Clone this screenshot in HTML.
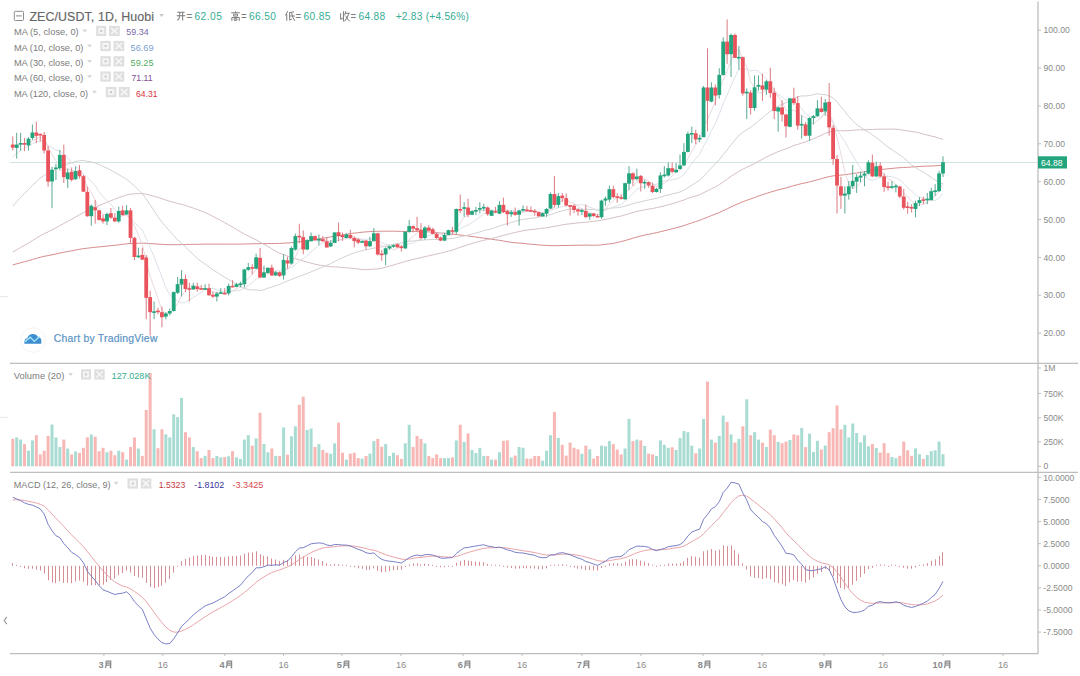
<!DOCTYPE html><html><head><meta charset="utf-8"><style>html,body{margin:0;padding:0;background:#fff;width:1080px;height:676px;overflow:hidden}svg{display:block;font-family:"Liberation Sans",sans-serif}</style></head><body>
<svg width="1080" height="676" viewBox="0 0 1080 676">
<rect width="1080" height="676" fill="#fff"/>
<line x1="10" x2="1038" y1="162.5" y2="162.5" stroke="#d2e5e2" stroke-width="1"/>
<polyline points="12.8,264.9 16.7,263.8 20.6,262.8 24.5,261.7 28.5,260.7 32.4,259.5 36.3,258.4 40.2,257.3 44.2,256.3 48.1,255.6 52.0,254.8 55.9,254.0 59.9,253.0 63.8,252.3 67.7,251.5 71.7,250.8 75.6,250.0 79.5,249.3 83.4,248.6 87.4,248.2 91.3,247.7 95.2,247.3 99.1,246.9 103.0,246.5 107.0,246.1 110.9,245.6 114.8,245.3 118.8,244.8 122.7,244.3 126.6,243.8 130.5,243.5 134.4,243.4 138.4,243.3 142.3,243.1 146.2,243.3 150.2,243.6 154.1,243.8 158.0,244.1 161.9,244.3 165.8,244.6 169.8,244.7 173.7,244.7 177.6,244.7 181.6,244.5 185.5,244.5 189.4,244.4 193.3,244.3 197.2,244.3 201.2,244.2 205.1,244.1 209.0,244.1 212.9,244.1 216.9,244.1 220.8,244.1 224.7,244.1 228.7,244.1 232.6,244.1 236.5,244.1 240.4,244.1 244.3,244.0 248.3,243.9 252.2,243.8 256.1,243.7 260.0,243.7 264.0,243.6 267.9,243.6 271.8,243.5 275.7,243.5 279.7,243.4 283.6,243.2 287.5,243.0 291.4,242.7 295.4,242.2 299.3,241.7 303.2,241.2 307.1,240.7 311.1,240.1 315.0,239.5 318.9,238.8 322.8,238.2 326.8,237.6 330.7,236.9 334.6,236.2 338.5,235.5 342.5,234.9 346.4,234.2 350.3,233.6 354.2,233.1 358.2,232.7 362.1,232.2 366.0,231.9 369.9,231.6 373.9,231.3 377.8,231.3 381.7,231.2 385.6,231.2 389.6,231.2 393.5,231.2 397.4,231.3 401.3,231.4 405.3,231.4 409.2,231.4 413.1,231.4 417.0,231.4 421.0,231.6 424.9,231.7 428.8,231.9 432.7,232.2 436.7,232.5 440.6,232.9 444.5,233.3 448.4,233.7 452.4,234.2 456.3,234.6 460.2,235.0 464.1,235.4 468.1,235.9 472.0,236.5 475.9,237.0 479.8,237.6 483.8,238.1 487.7,238.6 491.6,239.2 495.5,239.8 499.5,240.3 503.4,241.0 507.3,241.6 511.2,242.3 515.2,242.8 519.1,243.1 523.0,243.4 526.9,243.8 530.9,244.2 534.8,244.5 538.7,244.9 542.6,245.2 546.6,245.5 550.5,245.6 554.4,245.7 558.3,245.6 562.3,245.5 566.2,245.5 570.1,245.4 574.0,245.3 578.0,245.2 581.9,245.2 585.8,245.1 589.8,245.2 593.7,245.2 597.6,245.2 601.5,244.9 605.4,244.4 609.4,243.9 613.3,243.4 617.2,242.5 621.1,241.6 625.1,240.5 629.0,239.4 632.9,238.2 636.8,237.1 640.8,236.0 644.7,235.1 648.6,234.3 652.5,233.5 656.5,232.7 660.4,231.7 664.3,230.8 668.2,229.8 672.2,228.8 676.1,227.8 680.0,226.8 683.9,225.6 687.9,224.2 691.8,222.9 695.7,221.6 699.6,220.4 703.6,218.7 707.5,217.2 711.4,215.6 715.3,214.1 719.3,212.5 723.2,210.6 727.1,208.9 731.0,206.9 735.0,205.1 738.9,203.4 742.8,201.8 746.8,200.3 750.7,198.9 754.6,197.5 758.5,196.0 762.4,194.7 766.4,193.4 770.3,192.2 774.2,191.0 778.1,189.9 782.1,188.9 786.0,188.0 789.9,186.8 793.8,185.6 797.8,184.6 801.7,183.6 805.6,182.8 809.5,181.9 813.5,180.8 817.4,179.8 821.3,178.7 825.2,177.6 829.2,176.6 833.1,175.9 837.0,175.4 840.9,175.1 844.9,174.7 848.8,174.2 852.7,173.5 856.6,173.0 860.6,172.4 864.5,171.8 868.4,171.1 872.3,170.5 876.3,169.9 880.2,169.5 884.1,169.2 888.0,168.8 892.0,168.4 895.9,168.0 899.8,167.7 903.7,167.5 907.7,167.3 911.6,167.0 915.5,166.7 919.4,166.5 923.4,166.2 927.3,166.1 931.2,166.0 935.1,165.8 939.1,165.5 943.0,165.1" fill="none" stroke="#d48585" stroke-width="1" stroke-opacity="0.95"/>
<polyline points="12.8,251.9 16.7,249.7 20.6,247.5 24.5,245.3 28.5,243.0 32.4,240.6 36.3,238.2 40.2,235.8 44.2,233.6 48.1,231.9 52.0,229.9 55.9,227.9 59.9,225.5 63.8,223.5 67.7,221.3 71.7,219.3 75.6,216.9 79.5,214.7 83.4,212.6 87.4,210.9 91.3,209.0 95.2,207.2 99.1,205.5 103.0,203.9 107.0,202.2 110.9,200.6 114.8,199.2 118.8,197.6 122.7,196.3 126.6,194.9 130.5,194.2 134.4,193.8 138.4,193.6 142.3,193.6 146.2,194.2 150.2,195.2 154.1,196.3 158.0,197.4 161.9,198.7 165.8,200.0 169.8,201.3 173.7,202.4 177.6,203.4 181.6,204.3 185.5,205.5 189.4,206.8 193.3,208.1 197.2,209.5 201.2,211.0 205.1,212.6 209.0,214.4 212.9,216.4 216.9,218.4 220.8,220.5 224.7,222.7 228.7,224.9 232.6,227.1 236.5,229.4 240.4,231.7 244.3,233.9 248.3,235.9 252.2,237.9 256.1,239.8 260.0,242.1 264.0,244.3 267.9,246.5 271.8,248.9 275.7,251.2 279.7,253.2 283.6,254.6 287.5,256.1 291.4,257.5 295.4,258.8 299.3,259.8 303.2,261.1 307.1,262.1 311.1,263.2 315.0,264.2 318.9,265.0 322.8,265.5 326.8,266.1 330.7,266.7 334.6,266.9 338.5,267.1 342.5,267.5 346.4,267.8 350.3,268.1 354.2,268.6 358.2,269.0 362.1,269.6 366.0,269.7 369.9,269.4 373.9,269.1 377.8,269.0 381.7,268.3 385.6,267.2 389.6,266.1 393.5,265.0 397.4,263.8 401.3,262.7 405.3,261.4 409.2,260.3 413.1,259.4 417.0,258.6 421.0,257.7 424.9,256.7 428.8,255.8 432.7,254.9 436.7,254.0 440.6,253.2 444.5,252.2 448.4,251.1 452.4,250.1 456.3,248.7 460.2,247.3 464.1,246.0 468.1,244.7 472.0,243.5 475.9,242.3 479.8,241.3 483.8,240.3 487.7,239.4 491.6,238.6 495.5,237.5 499.5,236.4 503.4,235.4 507.3,234.4 511.2,233.4 515.2,232.4 519.1,231.6 523.0,230.7 526.9,230.1 530.9,229.6 534.8,229.2 538.7,228.7 542.6,228.2 546.6,227.8 550.5,227.0 554.4,226.4 558.3,225.7 562.3,224.9 566.2,224.2 570.1,223.8 574.0,223.4 578.0,222.9 581.9,222.5 585.8,222.2 589.8,221.7 593.7,221.3 597.6,220.9 601.5,220.1 605.4,219.4 609.4,218.7 613.3,217.7 617.2,216.8 621.1,216.0 625.1,214.9 629.0,213.7 632.9,212.6 636.8,211.4 640.8,210.6 644.7,209.8 648.6,209.1 652.5,208.5 656.5,207.7 660.4,206.8 664.3,205.9 668.2,204.8 672.2,203.7 676.1,202.5 680.0,201.3 683.9,200.0 687.9,198.4 691.8,197.1 695.7,196.0 699.6,194.8 703.6,192.7 707.5,190.9 711.4,188.8 715.3,186.9 719.3,184.7 723.2,181.9 727.1,179.3 731.0,176.3 735.0,173.8 738.9,171.3 742.8,169.2 746.8,167.2 750.7,165.5 754.6,163.4 758.5,161.3 762.4,159.3 766.4,157.1 770.3,155.2 774.2,153.4 778.1,151.6 782.1,150.1 786.0,148.9 789.9,147.2 793.8,145.6 797.8,144.4 801.7,143.1 805.6,141.9 809.5,140.3 813.5,138.7 817.4,137.0 821.3,135.3 825.2,133.4 829.2,132.0 833.1,131.0 837.0,130.7 840.9,130.7 844.9,130.8 848.8,130.6 852.7,130.3 856.6,129.9 860.6,129.8 864.5,129.8 868.4,129.5 872.3,129.5 876.3,129.3 880.2,129.2 884.1,129.2 888.0,129.1 892.0,129.1 895.9,129.2 899.8,129.6 903.7,130.3 907.7,130.9 911.6,131.5 915.5,132.1 919.4,132.9 923.4,134.1 927.3,135.1 931.2,136.0 935.1,136.9 939.1,138.3 943.0,139.3" fill="none" stroke="#d3bcc0" stroke-width="1" stroke-opacity="0.95"/>
<polyline points="12.8,206.1 16.7,201.7 20.6,197.5 24.5,193.5 28.5,189.6 32.4,185.6 36.3,181.8 40.2,178.2 44.2,175.3 48.1,173.5 52.0,171.4 55.9,169.3 59.9,167.0 63.8,165.5 67.7,164.0 71.7,162.8 75.6,161.6 79.5,160.7 83.4,160.5 87.4,161.3 91.3,161.9 95.2,163.0 99.1,164.5 103.0,166.4 107.0,168.1 110.9,170.2 114.8,172.5 118.8,174.6 122.7,177.0 126.6,179.3 130.5,182.3 134.4,186.0 138.4,189.8 142.3,193.6 146.2,198.9 150.2,204.9 154.1,210.8 158.0,216.7 161.9,222.2 165.8,226.6 169.8,231.3 173.7,235.5 177.6,239.8 181.6,243.2 185.5,247.1 189.4,250.7 193.3,254.5 197.2,258.3 201.2,261.6 205.1,264.0 209.0,266.9 212.9,269.8 216.9,272.3 220.8,274.7 224.7,277.3 228.7,279.6 232.6,281.8 236.5,284.2 240.4,286.5 244.3,288.5 248.3,289.5 252.2,289.9 256.1,289.9 260.0,290.5 264.0,289.7 267.9,288.2 271.8,287.0 275.7,285.7 279.7,284.3 283.6,282.5 287.5,280.9 291.4,279.4 295.4,277.8 299.3,276.4 303.2,275.1 307.1,273.5 311.1,271.8 315.0,270.2 318.9,268.5 322.8,266.9 326.8,265.3 330.7,263.6 334.6,261.5 338.5,259.6 342.5,257.7 346.4,256.0 350.3,254.4 354.2,252.9 358.2,251.6 362.1,250.6 366.0,249.9 369.9,249.0 373.9,248.2 377.8,247.4 381.7,246.9 385.6,246.2 389.6,245.2 393.5,244.3 397.4,243.4 401.3,243.0 405.3,241.9 409.2,241.2 413.1,240.9 417.0,240.7 421.0,240.3 424.9,239.9 428.8,239.7 432.7,239.5 436.7,239.5 440.6,239.5 444.5,239.0 448.4,238.6 452.4,238.6 456.3,237.7 460.2,236.8 464.1,235.9 468.1,235.1 472.0,234.1 475.9,233.0 479.8,231.9 483.8,230.6 487.7,229.7 491.6,228.9 495.5,227.5 499.5,225.9 503.4,224.7 507.3,223.6 511.2,222.5 515.2,221.4 519.1,220.2 523.0,219.4 526.9,218.9 530.9,218.4 534.8,217.8 538.7,217.0 542.6,216.5 546.6,215.8 550.5,214.5 554.4,213.4 558.3,211.9 562.3,210.7 566.2,209.9 570.1,209.0 574.0,209.1 578.0,209.1 581.9,209.2 585.8,209.3 589.8,209.4 593.7,209.6 597.6,209.9 601.5,209.7 605.4,209.2 609.4,208.4 613.3,207.9 617.2,207.7 621.1,207.2 625.1,206.2 629.0,204.9 632.9,203.7 636.8,202.6 640.8,201.7 644.7,200.8 648.6,199.9 652.5,199.2 656.5,198.3 660.4,197.1 664.3,195.9 668.2,195.1 672.2,193.9 676.1,193.1 680.0,192.0 683.9,190.2 687.9,187.8 691.8,185.2 695.7,182.8 699.6,180.4 703.6,176.1 707.5,172.3 711.4,168.0 715.3,164.0 719.3,159.8 723.2,154.6 727.1,150.1 731.0,144.7 735.0,140.0 738.9,135.3 742.8,132.3 746.8,129.6 750.7,127.2 754.6,124.2 758.5,120.9 762.4,117.9 766.4,114.4 770.3,111.1 774.2,108.5 778.1,106.2 782.1,104.2 786.0,102.8 789.9,100.4 793.8,98.2 797.8,96.8 801.7,95.9 805.6,96.0 809.5,95.5 813.5,94.7 817.4,93.7 821.3,94.5 825.2,94.6 829.2,95.9 833.1,98.0 837.0,101.7 840.9,106.8 844.9,111.5 848.8,116.5 852.7,120.6 856.6,124.6 860.6,127.3 864.5,130.1 868.4,131.9 872.3,134.8 876.3,137.6 880.2,140.5 884.1,144.0 888.0,147.1 892.0,149.6 895.9,152.3 899.8,155.0 903.7,157.7 907.7,161.4 911.6,164.9 915.5,167.5 919.4,170.0 923.4,172.1 927.3,174.8 931.2,177.3 935.1,180.1 939.1,182.1 943.0,184.1" fill="none" stroke="#cdcdcd" stroke-width="1" stroke-opacity="0.9"/>
<polyline points="12.8,156.9 16.7,153.5 20.6,150.5 24.5,148.3 28.5,146.0 32.4,143.7 36.3,142.1 40.2,140.8 44.2,141.4 48.1,145.4 52.0,147.6 55.9,149.9 59.9,151.1 63.8,154.3 67.7,157.7 71.7,162.5 75.6,166.0 79.5,170.1 83.4,174.2 87.4,177.7 91.3,181.3 95.2,185.6 99.1,192.1 103.0,196.5 107.0,200.7 110.9,204.4 114.8,209.5 118.8,212.9 122.7,215.3 126.6,214.7 130.5,217.9 134.4,222.5 138.4,226.2 142.3,230.0 146.2,238.4 150.2,247.8 154.1,256.8 158.0,266.9 161.9,277.1 165.8,287.5 169.8,294.8 173.7,298.3 177.6,301.1 181.6,303.0 185.5,302.2 189.4,299.9 193.3,297.3 197.2,295.0 201.2,292.3 205.1,289.8 209.0,288.2 212.9,288.6 216.9,289.6 220.8,290.9 224.7,291.4 228.7,291.1 232.6,291.2 236.5,290.7 240.4,290.2 244.3,288.2 248.3,285.4 252.2,282.6 256.1,279.0 260.0,277.5 264.0,275.4 267.9,273.6 271.8,272.4 275.7,271.2 279.7,270.4 283.6,269.5 287.5,269.1 291.4,267.0 295.4,264.9 299.3,260.9 303.2,258.6 307.1,255.8 311.1,251.9 315.0,248.7 318.9,245.0 322.8,243.1 326.8,241.5 330.7,241.0 334.6,240.6 338.5,240.5 342.5,239.3 346.4,238.7 350.3,238.9 354.2,239.0 358.2,239.3 362.1,239.3 366.0,239.2 369.9,239.0 373.9,239.1 377.8,241.0 381.7,242.7 385.6,244.1 389.6,244.9 393.5,245.4 397.4,245.8 401.3,246.5 405.3,245.0 409.2,243.5 413.1,243.1 417.0,240.7 421.0,239.0 424.9,236.9 428.8,235.4 432.7,234.2 436.7,233.3 440.6,232.6 444.5,232.9 448.4,233.3 452.4,233.5 456.3,231.4 460.2,228.6 464.1,226.6 468.1,225.0 472.0,222.7 475.9,219.9 479.8,216.7 483.8,213.9 487.7,212.3 491.6,210.2 495.5,210.6 499.5,210.1 503.4,210.5 507.3,210.5 511.2,210.6 515.2,211.0 519.1,211.3 523.0,211.5 526.9,211.2 530.9,211.3 534.8,211.3 538.7,212.4 542.6,212.5 546.6,212.0 550.5,210.2 554.4,209.2 558.3,207.7 562.3,206.7 566.2,206.1 570.1,205.6 574.0,205.4 578.0,204.9 581.9,204.6 585.8,205.4 589.8,207.4 593.7,208.5 597.6,210.6 601.5,210.9 605.4,210.2 609.4,208.4 613.3,207.1 617.2,205.8 621.1,204.6 625.1,201.2 629.0,197.2 632.9,193.5 636.8,189.4 640.8,187.7 644.7,186.1 648.6,185.7 652.5,185.2 656.5,184.3 660.4,181.9 664.3,181.1 668.2,180.6 672.2,179.8 676.1,179.1 680.0,177.4 683.9,174.3 687.9,169.2 691.8,163.4 695.7,158.4 699.6,154.7 703.6,145.9 707.5,139.2 711.4,130.8 715.3,123.4 719.3,114.3 723.2,103.3 727.1,95.3 731.0,85.5 735.0,77.3 738.9,69.2 742.8,69.8 746.8,68.9 750.7,71.0 754.6,70.1 758.5,71.1 762.4,75.9 766.4,78.6 770.3,84.5 774.2,89.8 778.1,94.8 782.1,96.9 786.0,100.3 789.9,99.4 793.8,101.0 797.8,105.0 801.7,108.5 805.6,114.0 809.5,116.4 813.5,117.0 817.4,117.1 821.3,116.8 825.2,114.4 829.2,117.3 833.1,122.9 837.0,128.9 840.9,136.0 844.9,141.8 848.8,148.6 852.7,155.1 856.6,162.0 860.6,168.3 864.5,175.4 868.4,178.9 872.3,180.7 876.3,178.7 880.2,176.8 884.1,176.2 888.0,176.3 892.0,176.9 895.9,177.8 899.8,179.9 903.7,183.3 907.7,187.8 911.6,191.0 915.5,194.7 919.4,197.1 923.4,198.4 927.3,199.6 931.2,200.0 935.1,200.5 939.1,198.2 943.0,193.6" fill="none" stroke="#d8dde6" stroke-width="1" stroke-opacity="0.9"/>
<polyline points="12.8,146.6 16.7,145.2 20.6,144.3 24.5,144.3 28.5,143.7 32.4,140.7 36.3,138.9 40.2,137.3 44.2,138.5 48.1,147.1 52.0,154.5 55.9,160.9 59.9,164.9 63.8,170.2 67.7,168.4 71.7,170.4 75.6,171.1 79.5,175.4 83.4,178.3 87.4,187.0 91.3,192.2 95.2,200.1 99.1,208.8 103.0,214.7 107.0,214.3 110.9,216.6 114.8,218.8 118.8,217.1 122.7,215.8 126.6,215.1 130.5,219.1 134.4,226.2 138.4,235.2 142.3,244.1 146.2,261.6 150.2,276.5 154.1,287.4 158.0,298.6 161.9,310.1 165.8,313.3 169.8,313.0 173.7,309.1 177.6,303.6 181.6,295.9 185.5,291.0 189.4,286.7 193.3,285.5 197.2,286.5 201.2,288.6 205.1,288.5 209.0,289.7 212.9,291.8 216.9,292.7 220.8,293.3 224.7,294.4 228.7,292.5 232.6,290.6 236.5,288.8 240.4,287.0 244.3,282.1 248.3,278.4 252.2,274.7 256.1,269.3 260.0,268.0 264.0,268.6 267.9,268.7 271.8,270.1 275.7,273.1 279.7,272.8 283.6,270.3 287.5,269.4 291.4,263.9 295.4,256.7 299.3,248.9 303.2,246.9 307.1,242.2 311.1,239.8 315.0,240.6 318.9,241.1 322.8,239.4 326.8,240.9 330.7,242.2 334.6,240.6 338.5,240.0 342.5,239.2 346.4,236.6 350.3,235.6 354.2,237.3 358.2,238.6 362.1,239.4 366.0,241.8 369.9,242.4 373.9,240.9 377.8,243.3 381.7,246.0 385.6,246.4 389.6,247.5 393.5,249.8 397.4,248.4 401.3,247.0 405.3,243.7 409.2,239.6 413.1,236.3 417.0,232.9 421.0,231.0 424.9,230.1 428.8,231.1 432.7,232.1 436.7,233.7 440.6,234.2 444.5,235.6 448.4,235.5 452.4,235.0 456.3,229.2 460.2,223.1 464.1,217.6 468.1,214.5 472.0,210.5 475.9,210.7 479.8,210.3 483.8,210.2 487.7,210.1 491.6,209.9 495.5,210.5 499.5,209.8 503.4,210.9 507.3,210.9 511.2,211.2 515.2,211.6 519.1,212.8 523.0,212.1 526.9,211.5 530.9,211.4 534.8,210.9 538.7,212.0 542.6,212.9 546.6,212.5 550.5,208.9 554.4,207.5 558.3,203.4 562.3,200.4 566.2,199.7 570.1,202.3 574.0,203.3 578.0,206.4 581.9,208.8 585.8,211.2 589.8,212.5 593.7,213.8 597.6,214.9 601.5,212.9 605.4,209.2 609.4,204.3 613.3,200.5 617.2,196.7 621.1,196.2 625.1,193.2 629.0,190.0 632.9,186.5 636.8,182.2 640.8,179.1 644.7,178.9 648.6,181.3 652.5,183.8 656.5,186.3 660.4,184.7 664.3,183.3 668.2,179.9 672.2,175.8 676.1,172.0 680.0,170.0 683.9,165.4 687.9,158.5 691.8,150.9 695.7,144.8 699.6,139.4 703.6,126.5 707.5,119.9 711.4,110.6 715.3,101.9 719.3,89.3 723.2,80.1 727.1,70.8 731.0,60.3 735.0,52.7 738.9,49.2 742.8,59.5 746.8,67.1 750.7,81.7 754.6,87.6 758.5,93.1 762.4,92.3 766.4,90.2 770.3,87.3 774.2,92.0 778.1,96.5 782.1,101.5 786.0,110.5 789.9,111.5 793.8,109.9 797.8,113.6 801.7,115.6 805.6,117.4 809.5,121.4 813.5,124.0 817.4,120.5 821.3,118.0 825.2,111.4 829.2,113.3 833.1,121.9 837.0,137.3 840.9,154.0 844.9,172.2 848.8,184.0 852.7,188.4 856.6,186.7 860.6,182.7 864.5,178.7 868.4,173.9 872.3,173.0 876.3,170.8 880.2,171.0 884.1,173.7 888.0,178.8 892.0,180.8 895.9,184.7 899.8,188.7 903.7,192.9 907.7,196.9 911.6,201.3 915.5,204.7 919.4,205.4 923.4,204.0 927.3,202.2 931.2,198.8 935.1,196.3 939.1,191.0 943.0,183.3" fill="none" stroke="#e8d3dc" stroke-width="1" stroke-opacity="0.9"/>
<line x1="12.78" x2="12.78" y1="136.4" y2="150.5" stroke="#dc7b81" stroke-width="1"/>
<rect x="10.88" y="144.6" width="3.8" height="3.0" fill="#e9535c"/>
<line x1="16.70" x2="16.70" y1="132.8" y2="158.6" stroke="#5aa893" stroke-width="1"/>
<rect x="14.80" y="144.6" width="3.8" height="3.3" fill="#22a57c"/>
<line x1="20.62" x2="20.62" y1="132.8" y2="150.5" stroke="#5aa893" stroke-width="1"/>
<rect x="18.73" y="143.0" width="3.8" height="1.6" fill="#22a57c"/>
<line x1="24.55" x2="24.55" y1="137.9" y2="151.2" stroke="#dc7b81" stroke-width="1"/>
<rect x="22.65" y="143.0" width="3.8" height="1.6" fill="#e9535c"/>
<line x1="28.48" x2="28.48" y1="137.2" y2="150.5" stroke="#5aa893" stroke-width="1"/>
<rect x="26.58" y="138.7" width="3.8" height="6.7" fill="#22a57c"/>
<line x1="32.40" x2="32.40" y1="124.6" y2="140.1" stroke="#5aa893" stroke-width="1"/>
<rect x="30.50" y="132.5" width="3.8" height="5.5" fill="#22a57c"/>
<line x1="36.32" x2="36.32" y1="121.7" y2="143.1" stroke="#dc7b81" stroke-width="1"/>
<rect x="34.42" y="132.5" width="3.8" height="3.3" fill="#e9535c"/>
<line x1="40.25" x2="40.25" y1="133.5" y2="141.6" stroke="#dc7b81" stroke-width="1"/>
<rect x="38.35" y="133.9" width="3.8" height="1.6" fill="#e9535c"/>
<line x1="44.17" x2="44.17" y1="132.0" y2="153.5" stroke="#dc7b81" stroke-width="1"/>
<rect x="42.27" y="135.0" width="3.8" height="15.5" fill="#e9535c"/>
<line x1="48.10" x2="48.10" y1="146.1" y2="186.7" stroke="#dc7b81" stroke-width="1"/>
<rect x="46.20" y="150.5" width="3.8" height="31.1" fill="#e9535c"/>
<line x1="52.02" x2="52.02" y1="166.8" y2="208.2" stroke="#5aa893" stroke-width="1"/>
<rect x="50.12" y="169.7" width="3.8" height="11.8" fill="#22a57c"/>
<line x1="55.95" x2="55.95" y1="163.8" y2="180.1" stroke="#5aa893" stroke-width="1"/>
<rect x="54.05" y="167.5" width="3.8" height="1.6" fill="#22a57c"/>
<line x1="59.87" x2="59.87" y1="149.8" y2="170.5" stroke="#5aa893" stroke-width="1"/>
<rect x="57.97" y="154.9" width="3.8" height="13.3" fill="#22a57c"/>
<line x1="63.80" x2="63.80" y1="144.6" y2="183.0" stroke="#dc7b81" stroke-width="1"/>
<rect x="61.90" y="154.9" width="3.8" height="22.2" fill="#e9535c"/>
<line x1="67.72" x2="67.72" y1="168.8" y2="188.1" stroke="#5aa893" stroke-width="1"/>
<rect x="65.82" y="172.5" width="3.8" height="6.7" fill="#22a57c"/>
<line x1="71.65" x2="71.65" y1="167.4" y2="181.4" stroke="#dc7b81" stroke-width="1"/>
<rect x="69.75" y="171.8" width="3.8" height="8.1" fill="#e9535c"/>
<line x1="75.58" x2="75.58" y1="166.6" y2="179.9" stroke="#5aa893" stroke-width="1"/>
<rect x="73.67" y="171.1" width="3.8" height="8.1" fill="#22a57c"/>
<line x1="79.50" x2="79.50" y1="165.1" y2="178.5" stroke="#dc7b81" stroke-width="1"/>
<rect x="77.60" y="170.3" width="3.8" height="5.9" fill="#e9535c"/>
<line x1="83.42" x2="83.42" y1="174.8" y2="191.8" stroke="#dc7b81" stroke-width="1"/>
<rect x="81.52" y="176.2" width="3.8" height="15.5" fill="#e9535c"/>
<line x1="87.35" x2="87.35" y1="186.6" y2="216.9" stroke="#dc7b81" stroke-width="1"/>
<rect x="85.45" y="191.8" width="3.8" height="24.4" fill="#e9535c"/>
<line x1="91.28" x2="91.28" y1="204.3" y2="225.8" stroke="#5aa893" stroke-width="1"/>
<rect x="89.38" y="205.8" width="3.8" height="10.4" fill="#22a57c"/>
<line x1="95.20" x2="95.20" y1="199.9" y2="223.6" stroke="#dc7b81" stroke-width="1"/>
<rect x="93.30" y="207.3" width="3.8" height="3.0" fill="#e9535c"/>
<line x1="99.12" x2="99.12" y1="210.3" y2="220.6" stroke="#dc7b81" stroke-width="1"/>
<rect x="97.22" y="210.3" width="3.8" height="9.6" fill="#e9535c"/>
<line x1="103.05" x2="103.05" y1="214.7" y2="223.6" stroke="#dc7b81" stroke-width="1"/>
<rect x="101.15" y="218.4" width="3.8" height="3.0" fill="#e9535c"/>
<line x1="106.97" x2="106.97" y1="212.5" y2="225.1" stroke="#5aa893" stroke-width="1"/>
<rect x="105.07" y="214.0" width="3.8" height="7.4" fill="#22a57c"/>
<line x1="110.90" x2="110.90" y1="208.0" y2="219.1" stroke="#dc7b81" stroke-width="1"/>
<rect x="109.00" y="213.2" width="3.8" height="4.4" fill="#e9535c"/>
<line x1="114.83" x2="114.83" y1="213.2" y2="222.1" stroke="#dc7b81" stroke-width="1"/>
<rect x="112.92" y="217.7" width="3.8" height="3.7" fill="#e9535c"/>
<line x1="118.75" x2="118.75" y1="206.6" y2="222.8" stroke="#5aa893" stroke-width="1"/>
<rect x="116.85" y="211.0" width="3.8" height="10.4" fill="#22a57c"/>
<line x1="122.67" x2="122.67" y1="205.7" y2="215.5" stroke="#dc7b81" stroke-width="1"/>
<rect x="120.77" y="210.4" width="3.8" height="4.7" fill="#e9535c"/>
<line x1="126.60" x2="126.60" y1="205.2" y2="214.5" stroke="#5aa893" stroke-width="1"/>
<rect x="124.70" y="210.4" width="3.8" height="4.1" fill="#22a57c"/>
<line x1="130.53" x2="130.53" y1="207.8" y2="243.5" stroke="#dc7b81" stroke-width="1"/>
<rect x="128.62" y="210.4" width="3.8" height="27.5" fill="#e9535c"/>
<line x1="134.45" x2="134.45" y1="236.8" y2="260.1" stroke="#dc7b81" stroke-width="1"/>
<rect x="132.55" y="237.8" width="3.8" height="19.2" fill="#e9535c"/>
<line x1="138.38" x2="138.38" y1="247.7" y2="258.0" stroke="#5aa893" stroke-width="1"/>
<rect x="136.47" y="255.6" width="3.8" height="1.6" fill="#22a57c"/>
<line x1="142.30" x2="142.30" y1="247.7" y2="260.1" stroke="#dc7b81" stroke-width="1"/>
<rect x="140.40" y="254.9" width="3.8" height="4.7" fill="#e9535c"/>
<line x1="146.22" x2="146.22" y1="255.0" y2="319.2" stroke="#dc7b81" stroke-width="1"/>
<rect x="144.32" y="257.5" width="3.8" height="40.3" fill="#e9535c"/>
<line x1="150.15" x2="150.15" y1="290.8" y2="335.5" stroke="#dc7b81" stroke-width="1"/>
<rect x="148.25" y="297.1" width="3.8" height="15.1" fill="#e9535c"/>
<line x1="154.07" x2="154.07" y1="301.5" y2="319.2" stroke="#5aa893" stroke-width="1"/>
<rect x="152.17" y="311.3" width="3.8" height="1.6" fill="#22a57c"/>
<line x1="158.00" x2="158.00" y1="307.8" y2="314.1" stroke="#dc7b81" stroke-width="1"/>
<rect x="156.10" y="310.6" width="3.8" height="1.6" fill="#e9535c"/>
<line x1="161.93" x2="161.93" y1="306.6" y2="327.3" stroke="#dc7b81" stroke-width="1"/>
<rect x="160.03" y="312.2" width="3.8" height="5.0" fill="#e9535c"/>
<line x1="165.85" x2="165.85" y1="312.2" y2="319.2" stroke="#5aa893" stroke-width="1"/>
<rect x="163.95" y="313.5" width="3.8" height="3.1" fill="#22a57c"/>
<line x1="169.78" x2="169.78" y1="308.5" y2="315.4" stroke="#5aa893" stroke-width="1"/>
<rect x="167.88" y="311.0" width="3.8" height="2.5" fill="#22a57c"/>
<line x1="173.70" x2="173.70" y1="291.5" y2="311.6" stroke="#5aa893" stroke-width="1"/>
<rect x="171.80" y="292.1" width="3.8" height="18.9" fill="#22a57c"/>
<line x1="177.62" x2="177.62" y1="277.0" y2="294.0" stroke="#5aa893" stroke-width="1"/>
<rect x="175.72" y="284.2" width="3.8" height="8.6" fill="#22a57c"/>
<line x1="181.55" x2="181.55" y1="270.1" y2="296.5" stroke="#5aa893" stroke-width="1"/>
<rect x="179.65" y="278.9" width="3.8" height="5.7" fill="#22a57c"/>
<line x1="185.47" x2="185.47" y1="274.5" y2="292.1" stroke="#dc7b81" stroke-width="1"/>
<rect x="183.57" y="278.9" width="3.8" height="10.1" fill="#e9535c"/>
<line x1="189.40" x2="189.40" y1="282.8" y2="301.5" stroke="#dc7b81" stroke-width="1"/>
<rect x="187.50" y="288.2" width="3.8" height="1.6" fill="#e9535c"/>
<line x1="193.32" x2="193.32" y1="282.8" y2="289.9" stroke="#5aa893" stroke-width="1"/>
<rect x="191.42" y="285.9" width="3.8" height="3.5" fill="#22a57c"/>
<line x1="197.25" x2="197.25" y1="282.8" y2="291.7" stroke="#dc7b81" stroke-width="1"/>
<rect x="195.35" y="286.4" width="3.8" height="2.7" fill="#e9535c"/>
<line x1="201.17" x2="201.17" y1="285.0" y2="289.5" stroke="#dc7b81" stroke-width="1"/>
<rect x="199.27" y="288.2" width="3.8" height="1.6" fill="#e9535c"/>
<line x1="205.10" x2="205.10" y1="284.2" y2="289.5" stroke="#5aa893" stroke-width="1"/>
<rect x="203.20" y="288.2" width="3.8" height="1.6" fill="#22a57c"/>
<line x1="209.03" x2="209.03" y1="283.7" y2="295.7" stroke="#dc7b81" stroke-width="1"/>
<rect x="207.12" y="288.2" width="3.8" height="7.1" fill="#e9535c"/>
<line x1="212.95" x2="212.95" y1="291.7" y2="297.9" stroke="#dc7b81" stroke-width="1"/>
<rect x="211.05" y="294.8" width="3.8" height="1.8" fill="#e9535c"/>
<line x1="216.88" x2="216.88" y1="291.7" y2="301.5" stroke="#5aa893" stroke-width="1"/>
<rect x="214.97" y="293.5" width="3.8" height="3.1" fill="#22a57c"/>
<line x1="220.80" x2="220.80" y1="288.2" y2="293.5" stroke="#5aa893" stroke-width="1"/>
<rect x="218.90" y="292.2" width="3.8" height="1.6" fill="#22a57c"/>
<line x1="224.72" x2="224.72" y1="288.2" y2="294.4" stroke="#dc7b81" stroke-width="1"/>
<rect x="222.82" y="292.7" width="3.8" height="1.6" fill="#e9535c"/>
<line x1="228.65" x2="228.65" y1="283.7" y2="295.3" stroke="#5aa893" stroke-width="1"/>
<rect x="226.75" y="285.9" width="3.8" height="7.5" fill="#22a57c"/>
<line x1="232.57" x2="232.57" y1="280.2" y2="287.3" stroke="#dc7b81" stroke-width="1"/>
<rect x="230.67" y="285.8" width="3.8" height="1.6" fill="#e9535c"/>
<line x1="236.50" x2="236.50" y1="282.8" y2="287.3" stroke="#5aa893" stroke-width="1"/>
<rect x="234.60" y="284.2" width="3.8" height="2.7" fill="#22a57c"/>
<line x1="240.42" x2="240.42" y1="281.7" y2="287.4" stroke="#5aa893" stroke-width="1"/>
<rect x="238.52" y="283.4" width="3.8" height="1.6" fill="#22a57c"/>
<line x1="244.35" x2="244.35" y1="268.7" y2="287.4" stroke="#5aa893" stroke-width="1"/>
<rect x="242.45" y="269.5" width="3.8" height="14.7" fill="#22a57c"/>
<line x1="248.28" x2="248.28" y1="263.0" y2="270.8" stroke="#5aa893" stroke-width="1"/>
<rect x="246.38" y="267.2" width="3.8" height="2.6" fill="#22a57c"/>
<line x1="252.20" x2="252.20" y1="264.0" y2="274.4" stroke="#dc7b81" stroke-width="1"/>
<rect x="250.30" y="267.1" width="3.8" height="1.6" fill="#e9535c"/>
<line x1="256.12" x2="256.12" y1="253.7" y2="269.2" stroke="#5aa893" stroke-width="1"/>
<rect x="254.22" y="257.3" width="3.8" height="11.4" fill="#22a57c"/>
<line x1="260.05" x2="260.05" y1="248.0" y2="278.0" stroke="#dc7b81" stroke-width="1"/>
<rect x="258.15" y="257.8" width="3.8" height="19.7" fill="#e9535c"/>
<line x1="263.97" x2="263.97" y1="265.6" y2="278.0" stroke="#5aa893" stroke-width="1"/>
<rect x="262.07" y="272.3" width="3.8" height="5.2" fill="#22a57c"/>
<line x1="267.90" x2="267.90" y1="267.2" y2="273.9" stroke="#5aa893" stroke-width="1"/>
<rect x="266.00" y="267.9" width="3.8" height="5.0" fill="#22a57c"/>
<line x1="271.82" x2="271.82" y1="264.6" y2="276.0" stroke="#dc7b81" stroke-width="1"/>
<rect x="269.93" y="267.7" width="3.8" height="7.8" fill="#e9535c"/>
<line x1="275.75" x2="275.75" y1="270.8" y2="276.0" stroke="#5aa893" stroke-width="1"/>
<rect x="273.85" y="272.3" width="3.8" height="3.1" fill="#22a57c"/>
<line x1="279.67" x2="279.67" y1="271.3" y2="277.0" stroke="#dc7b81" stroke-width="1"/>
<rect x="277.77" y="272.3" width="3.8" height="3.6" fill="#e9535c"/>
<line x1="283.60" x2="283.60" y1="254.2" y2="279.6" stroke="#5aa893" stroke-width="1"/>
<rect x="281.70" y="259.9" width="3.8" height="15.5" fill="#22a57c"/>
<line x1="287.52" x2="287.52" y1="256.8" y2="268.7" stroke="#dc7b81" stroke-width="1"/>
<rect x="285.62" y="260.4" width="3.8" height="3.1" fill="#e9535c"/>
<line x1="291.45" x2="291.45" y1="246.4" y2="264.6" stroke="#5aa893" stroke-width="1"/>
<rect x="289.55" y="248.0" width="3.8" height="15.5" fill="#22a57c"/>
<line x1="295.37" x2="295.37" y1="233.5" y2="250.6" stroke="#5aa893" stroke-width="1"/>
<rect x="293.47" y="236.1" width="3.8" height="13.5" fill="#22a57c"/>
<line x1="299.30" x2="299.30" y1="223.7" y2="243.3" stroke="#dc7b81" stroke-width="1"/>
<rect x="297.40" y="235.8" width="3.8" height="1.6" fill="#e9535c"/>
<line x1="303.22" x2="303.22" y1="230.4" y2="254.2" stroke="#dc7b81" stroke-width="1"/>
<rect x="301.32" y="237.1" width="3.8" height="12.4" fill="#e9535c"/>
<line x1="307.15" x2="307.15" y1="239.2" y2="250.1" stroke="#5aa893" stroke-width="1"/>
<rect x="305.25" y="240.2" width="3.8" height="9.3" fill="#22a57c"/>
<line x1="311.07" x2="311.07" y1="232.5" y2="241.3" stroke="#5aa893" stroke-width="1"/>
<rect x="309.18" y="236.1" width="3.8" height="5.2" fill="#22a57c"/>
<line x1="315.00" x2="315.00" y1="235.6" y2="240.8" stroke="#dc7b81" stroke-width="1"/>
<rect x="313.10" y="236.1" width="3.8" height="4.1" fill="#e9535c"/>
<line x1="318.92" x2="318.92" y1="234.5" y2="245.4" stroke="#5aa893" stroke-width="1"/>
<rect x="317.02" y="238.9" width="3.8" height="1.6" fill="#22a57c"/>
<line x1="322.85" x2="322.85" y1="236.1" y2="241.8" stroke="#dc7b81" stroke-width="1"/>
<rect x="320.95" y="239.2" width="3.8" height="2.1" fill="#e9535c"/>
<line x1="326.77" x2="326.77" y1="237.1" y2="247.5" stroke="#dc7b81" stroke-width="1"/>
<rect x="324.88" y="241.3" width="3.8" height="6.2" fill="#e9535c"/>
<line x1="330.70" x2="330.70" y1="240.2" y2="247.0" stroke="#5aa893" stroke-width="1"/>
<rect x="328.80" y="242.8" width="3.8" height="3.6" fill="#22a57c"/>
<line x1="334.62" x2="334.62" y1="231.9" y2="242.8" stroke="#5aa893" stroke-width="1"/>
<rect x="332.72" y="232.5" width="3.8" height="10.4" fill="#22a57c"/>
<line x1="338.55" x2="338.55" y1="222.6" y2="241.3" stroke="#dc7b81" stroke-width="1"/>
<rect x="336.65" y="232.2" width="3.8" height="3.9" fill="#e9535c"/>
<line x1="342.47" x2="342.47" y1="232.5" y2="240.8" stroke="#dc7b81" stroke-width="1"/>
<rect x="340.57" y="235.1" width="3.8" height="2.1" fill="#e9535c"/>
<line x1="346.40" x2="346.40" y1="233.3" y2="238.5" stroke="#5aa893" stroke-width="1"/>
<rect x="344.50" y="234.4" width="3.8" height="3.6" fill="#22a57c"/>
<line x1="350.32" x2="350.32" y1="229.7" y2="239.0" stroke="#dc7b81" stroke-width="1"/>
<rect x="348.43" y="234.9" width="3.8" height="3.1" fill="#e9535c"/>
<line x1="354.25" x2="354.25" y1="236.4" y2="247.3" stroke="#dc7b81" stroke-width="1"/>
<rect x="352.35" y="238.0" width="3.8" height="3.1" fill="#e9535c"/>
<line x1="358.17" x2="358.17" y1="238.0" y2="244.2" stroke="#dc7b81" stroke-width="1"/>
<rect x="356.27" y="239.5" width="3.8" height="3.1" fill="#e9535c"/>
<line x1="362.10" x2="362.10" y1="240.1" y2="243.2" stroke="#5aa893" stroke-width="1"/>
<rect x="360.20" y="241.1" width="3.8" height="1.6" fill="#22a57c"/>
<line x1="366.02" x2="366.02" y1="240.1" y2="249.9" stroke="#dc7b81" stroke-width="1"/>
<rect x="364.12" y="240.6" width="3.8" height="5.7" fill="#e9535c"/>
<line x1="369.95" x2="369.95" y1="236.9" y2="246.8" stroke="#5aa893" stroke-width="1"/>
<rect x="368.05" y="241.1" width="3.8" height="5.2" fill="#22a57c"/>
<line x1="373.87" x2="373.87" y1="228.1" y2="241.1" stroke="#5aa893" stroke-width="1"/>
<rect x="371.97" y="233.3" width="3.8" height="7.8" fill="#22a57c"/>
<line x1="377.80" x2="377.80" y1="232.8" y2="255.6" stroke="#dc7b81" stroke-width="1"/>
<rect x="375.90" y="233.3" width="3.8" height="21.2" fill="#e9535c"/>
<line x1="381.72" x2="381.72" y1="249.9" y2="260.8" stroke="#dc7b81" stroke-width="1"/>
<rect x="379.82" y="253.6" width="3.8" height="1.6" fill="#e9535c"/>
<line x1="385.65" x2="385.65" y1="247.3" y2="265.4" stroke="#5aa893" stroke-width="1"/>
<rect x="383.75" y="248.3" width="3.8" height="6.2" fill="#22a57c"/>
<line x1="389.57" x2="389.57" y1="245.8" y2="249.9" stroke="#5aa893" stroke-width="1"/>
<rect x="387.67" y="246.3" width="3.8" height="2.1" fill="#22a57c"/>
<line x1="393.50" x2="393.50" y1="244.2" y2="247.8" stroke="#5aa893" stroke-width="1"/>
<rect x="391.60" y="245.2" width="3.8" height="1.6" fill="#22a57c"/>
<line x1="397.42" x2="397.42" y1="243.7" y2="247.8" stroke="#dc7b81" stroke-width="1"/>
<rect x="395.52" y="244.2" width="3.8" height="3.1" fill="#e9535c"/>
<line x1="401.35" x2="401.35" y1="245.2" y2="251.5" stroke="#dc7b81" stroke-width="1"/>
<rect x="399.45" y="246.5" width="3.8" height="1.6" fill="#e9535c"/>
<line x1="405.27" x2="405.27" y1="231.3" y2="248.9" stroke="#5aa893" stroke-width="1"/>
<rect x="403.38" y="231.8" width="3.8" height="16.6" fill="#22a57c"/>
<line x1="409.20" x2="409.20" y1="219.9" y2="232.8" stroke="#5aa893" stroke-width="1"/>
<rect x="407.30" y="226.1" width="3.8" height="5.7" fill="#22a57c"/>
<line x1="413.12" x2="413.12" y1="225.6" y2="232.3" stroke="#dc7b81" stroke-width="1"/>
<rect x="411.22" y="226.1" width="3.8" height="2.6" fill="#e9535c"/>
<line x1="417.05" x2="417.05" y1="216.8" y2="231.8" stroke="#dc7b81" stroke-width="1"/>
<rect x="415.15" y="228.2" width="3.8" height="2.1" fill="#e9535c"/>
<line x1="420.97" x2="420.97" y1="223.0" y2="239.6" stroke="#dc7b81" stroke-width="1"/>
<rect x="419.07" y="229.7" width="3.8" height="8.3" fill="#e9535c"/>
<line x1="424.90" x2="424.90" y1="226.1" y2="239.6" stroke="#5aa893" stroke-width="1"/>
<rect x="423.00" y="227.6" width="3.8" height="10.4" fill="#22a57c"/>
<line x1="428.82" x2="428.82" y1="225.1" y2="231.3" stroke="#dc7b81" stroke-width="1"/>
<rect x="426.92" y="227.6" width="3.8" height="3.1" fill="#e9535c"/>
<line x1="432.75" x2="432.75" y1="227.6" y2="234.4" stroke="#dc7b81" stroke-width="1"/>
<rect x="430.85" y="229.2" width="3.8" height="4.7" fill="#e9535c"/>
<line x1="436.67" x2="436.67" y1="232.3" y2="239.0" stroke="#dc7b81" stroke-width="1"/>
<rect x="434.77" y="233.9" width="3.8" height="4.1" fill="#e9535c"/>
<line x1="440.60" x2="440.60" y1="236.5" y2="241.1" stroke="#dc7b81" stroke-width="1"/>
<rect x="438.70" y="237.5" width="3.8" height="3.1" fill="#e9535c"/>
<line x1="444.52" x2="444.52" y1="232.8" y2="241.1" stroke="#5aa893" stroke-width="1"/>
<rect x="442.62" y="234.9" width="3.8" height="5.7" fill="#22a57c"/>
<line x1="448.45" x2="448.45" y1="229.7" y2="235.4" stroke="#5aa893" stroke-width="1"/>
<rect x="446.55" y="230.2" width="3.8" height="4.7" fill="#22a57c"/>
<line x1="452.37" x2="452.37" y1="226.6" y2="234.4" stroke="#dc7b81" stroke-width="1"/>
<rect x="450.47" y="230.2" width="3.8" height="1.6" fill="#e9535c"/>
<line x1="456.30" x2="456.30" y1="208.5" y2="234.4" stroke="#5aa893" stroke-width="1"/>
<rect x="454.40" y="209.0" width="3.8" height="22.8" fill="#22a57c"/>
<line x1="460.22" x2="460.22" y1="194.5" y2="213.2" stroke="#dc7b81" stroke-width="1"/>
<rect x="458.32" y="209.0" width="3.8" height="1.6" fill="#e9535c"/>
<line x1="464.15" x2="464.15" y1="202.3" y2="216.8" stroke="#5aa893" stroke-width="1"/>
<rect x="462.25" y="207.2" width="3.8" height="1.6" fill="#22a57c"/>
<line x1="468.07" x2="468.07" y1="198.7" y2="217.3" stroke="#dc7b81" stroke-width="1"/>
<rect x="466.17" y="207.5" width="3.8" height="7.3" fill="#e9535c"/>
<line x1="472.00" x2="472.00" y1="210.6" y2="215.2" stroke="#5aa893" stroke-width="1"/>
<rect x="470.10" y="211.1" width="3.8" height="3.6" fill="#22a57c"/>
<line x1="475.92" x2="475.92" y1="206.9" y2="215.2" stroke="#5aa893" stroke-width="1"/>
<rect x="474.02" y="210.0" width="3.8" height="1.6" fill="#22a57c"/>
<line x1="479.85" x2="479.85" y1="202.3" y2="213.2" stroke="#5aa893" stroke-width="1"/>
<rect x="477.95" y="208.0" width="3.8" height="1.6" fill="#22a57c"/>
<line x1="483.77" x2="483.77" y1="203.8" y2="211.1" stroke="#5aa893" stroke-width="1"/>
<rect x="481.88" y="206.9" width="3.8" height="1.6" fill="#22a57c"/>
<line x1="487.70" x2="487.70" y1="206.4" y2="215.8" stroke="#dc7b81" stroke-width="1"/>
<rect x="485.80" y="207.5" width="3.8" height="6.7" fill="#e9535c"/>
<line x1="491.62" x2="491.62" y1="210.1" y2="215.8" stroke="#5aa893" stroke-width="1"/>
<rect x="489.72" y="210.6" width="3.8" height="5.2" fill="#22a57c"/>
<line x1="495.55" x2="495.55" y1="206.9" y2="213.2" stroke="#dc7b81" stroke-width="1"/>
<rect x="493.65" y="211.1" width="3.8" height="1.6" fill="#e9535c"/>
<line x1="499.47" x2="499.47" y1="201.2" y2="214.2" stroke="#5aa893" stroke-width="1"/>
<rect x="497.57" y="204.9" width="3.8" height="8.8" fill="#22a57c"/>
<line x1="503.40" x2="503.40" y1="197.6" y2="213.2" stroke="#dc7b81" stroke-width="1"/>
<rect x="501.50" y="204.9" width="3.8" height="7.3" fill="#e9535c"/>
<line x1="507.32" x2="507.32" y1="209.5" y2="225.6" stroke="#dc7b81" stroke-width="1"/>
<rect x="505.42" y="211.1" width="3.8" height="3.1" fill="#e9535c"/>
<line x1="511.25" x2="511.25" y1="210.1" y2="216.8" stroke="#5aa893" stroke-width="1"/>
<rect x="509.35" y="212.1" width="3.8" height="2.1" fill="#22a57c"/>
<line x1="515.17" x2="515.17" y1="207.5" y2="215.8" stroke="#dc7b81" stroke-width="1"/>
<rect x="513.27" y="212.2" width="3.8" height="2.6" fill="#e9535c"/>
<line x1="519.10" x2="519.10" y1="209.6" y2="225.6" stroke="#5aa893" stroke-width="1"/>
<rect x="517.20" y="210.6" width="3.8" height="4.1" fill="#22a57c"/>
<line x1="523.02" x2="523.02" y1="205.4" y2="211.6" stroke="#5aa893" stroke-width="1"/>
<rect x="521.12" y="209.0" width="3.8" height="1.6" fill="#22a57c"/>
<line x1="526.95" x2="526.95" y1="205.9" y2="211.6" stroke="#dc7b81" stroke-width="1"/>
<rect x="525.05" y="209.5" width="3.8" height="1.6" fill="#e9535c"/>
<line x1="530.88" x2="530.88" y1="206.5" y2="212.2" stroke="#dc7b81" stroke-width="1"/>
<rect x="528.98" y="210.1" width="3.8" height="1.6" fill="#e9535c"/>
<line x1="534.80" x2="534.80" y1="209.0" y2="215.8" stroke="#dc7b81" stroke-width="1"/>
<rect x="532.90" y="210.8" width="3.8" height="1.6" fill="#e9535c"/>
<line x1="538.72" x2="538.72" y1="211.6" y2="216.8" stroke="#dc7b81" stroke-width="1"/>
<rect x="536.82" y="212.2" width="3.8" height="4.1" fill="#e9535c"/>
<line x1="542.65" x2="542.65" y1="212.7" y2="216.8" stroke="#5aa893" stroke-width="1"/>
<rect x="540.75" y="213.2" width="3.8" height="3.1" fill="#22a57c"/>
<line x1="546.57" x2="546.57" y1="208.0" y2="216.8" stroke="#5aa893" stroke-width="1"/>
<rect x="544.67" y="209.0" width="3.8" height="4.7" fill="#22a57c"/>
<line x1="550.50" x2="550.50" y1="192.5" y2="209.0" stroke="#5aa893" stroke-width="1"/>
<rect x="548.60" y="194.0" width="3.8" height="14.5" fill="#22a57c"/>
<line x1="554.42" x2="554.42" y1="175.9" y2="207.5" stroke="#dc7b81" stroke-width="1"/>
<rect x="552.52" y="194.0" width="3.8" height="10.9" fill="#e9535c"/>
<line x1="558.35" x2="558.35" y1="193.0" y2="207.5" stroke="#5aa893" stroke-width="1"/>
<rect x="556.45" y="196.1" width="3.8" height="8.8" fill="#22a57c"/>
<line x1="562.27" x2="562.27" y1="193.0" y2="202.3" stroke="#dc7b81" stroke-width="1"/>
<rect x="560.38" y="195.6" width="3.8" height="2.6" fill="#e9535c"/>
<line x1="566.20" x2="566.20" y1="193.5" y2="205.9" stroke="#dc7b81" stroke-width="1"/>
<rect x="564.30" y="198.2" width="3.8" height="7.3" fill="#e9535c"/>
<line x1="570.12" x2="570.12" y1="204.7" y2="215.6" stroke="#dc7b81" stroke-width="1"/>
<rect x="568.23" y="205.2" width="3.8" height="1.6" fill="#e9535c"/>
<line x1="574.05" x2="574.05" y1="204.2" y2="213.0" stroke="#dc7b81" stroke-width="1"/>
<rect x="572.15" y="205.8" width="3.8" height="4.1" fill="#e9535c"/>
<line x1="577.97" x2="577.97" y1="208.4" y2="215.6" stroke="#dc7b81" stroke-width="1"/>
<rect x="576.07" y="209.4" width="3.8" height="2.1" fill="#e9535c"/>
<line x1="581.90" x2="581.90" y1="208.9" y2="215.1" stroke="#5aa893" stroke-width="1"/>
<rect x="580.00" y="210.2" width="3.8" height="1.6" fill="#22a57c"/>
<line x1="585.82" x2="585.82" y1="204.7" y2="217.7" stroke="#dc7b81" stroke-width="1"/>
<rect x="583.92" y="211.0" width="3.8" height="6.2" fill="#e9535c"/>
<line x1="589.75" x2="589.75" y1="213.0" y2="219.8" stroke="#5aa893" stroke-width="1"/>
<rect x="587.85" y="213.5" width="3.8" height="3.1" fill="#22a57c"/>
<line x1="593.67" x2="593.67" y1="213.0" y2="216.7" stroke="#dc7b81" stroke-width="1"/>
<rect x="591.77" y="213.5" width="3.8" height="2.6" fill="#e9535c"/>
<line x1="597.60" x2="597.60" y1="214.1" y2="217.2" stroke="#dc7b81" stroke-width="1"/>
<rect x="595.70" y="215.9" width="3.8" height="1.6" fill="#e9535c"/>
<line x1="601.52" x2="601.52" y1="199.6" y2="218.7" stroke="#5aa893" stroke-width="1"/>
<rect x="599.62" y="200.6" width="3.8" height="16.6" fill="#22a57c"/>
<line x1="605.45" x2="605.45" y1="196.5" y2="205.8" stroke="#5aa893" stroke-width="1"/>
<rect x="603.55" y="198.5" width="3.8" height="2.1" fill="#22a57c"/>
<line x1="609.38" x2="609.38" y1="185.6" y2="202.2" stroke="#5aa893" stroke-width="1"/>
<rect x="607.48" y="189.2" width="3.8" height="10.4" fill="#22a57c"/>
<line x1="613.30" x2="613.30" y1="185.6" y2="198.5" stroke="#dc7b81" stroke-width="1"/>
<rect x="611.40" y="189.2" width="3.8" height="7.8" fill="#e9535c"/>
<line x1="617.22" x2="617.22" y1="193.3" y2="202.7" stroke="#dc7b81" stroke-width="1"/>
<rect x="615.32" y="196.4" width="3.8" height="1.6" fill="#e9535c"/>
<line x1="621.15" x2="621.15" y1="194.4" y2="199.6" stroke="#dc7b81" stroke-width="1"/>
<rect x="619.25" y="197.2" width="3.8" height="1.6" fill="#e9535c"/>
<line x1="625.07" x2="625.07" y1="182.7" y2="199.8" stroke="#5aa893" stroke-width="1"/>
<rect x="623.17" y="183.2" width="3.8" height="16.1" fill="#22a57c"/>
<line x1="629.00" x2="629.00" y1="166.1" y2="189.9" stroke="#5aa893" stroke-width="1"/>
<rect x="627.10" y="173.3" width="3.8" height="10.4" fill="#22a57c"/>
<line x1="632.92" x2="632.92" y1="172.3" y2="185.8" stroke="#dc7b81" stroke-width="1"/>
<rect x="631.02" y="173.3" width="3.8" height="6.2" fill="#e9535c"/>
<line x1="636.85" x2="636.85" y1="168.7" y2="180.6" stroke="#5aa893" stroke-width="1"/>
<rect x="634.95" y="176.5" width="3.8" height="2.6" fill="#22a57c"/>
<line x1="640.77" x2="640.77" y1="174.9" y2="191.5" stroke="#dc7b81" stroke-width="1"/>
<rect x="638.88" y="175.9" width="3.8" height="7.3" fill="#e9535c"/>
<line x1="644.70" x2="644.70" y1="179.6" y2="188.9" stroke="#5aa893" stroke-width="1"/>
<rect x="642.80" y="181.9" width="3.8" height="1.6" fill="#22a57c"/>
<line x1="648.62" x2="648.62" y1="181.6" y2="187.8" stroke="#dc7b81" stroke-width="1"/>
<rect x="646.73" y="182.2" width="3.8" height="3.1" fill="#e9535c"/>
<line x1="652.55" x2="652.55" y1="182.7" y2="193.0" stroke="#dc7b81" stroke-width="1"/>
<rect x="650.65" y="185.8" width="3.8" height="6.2" fill="#e9535c"/>
<line x1="656.47" x2="656.47" y1="187.8" y2="192.5" stroke="#5aa893" stroke-width="1"/>
<rect x="654.57" y="188.9" width="3.8" height="3.1" fill="#22a57c"/>
<line x1="660.40" x2="660.40" y1="172.3" y2="193.0" stroke="#5aa893" stroke-width="1"/>
<rect x="658.50" y="175.4" width="3.8" height="13.5" fill="#22a57c"/>
<line x1="664.32" x2="664.32" y1="166.1" y2="177.5" stroke="#5aa893" stroke-width="1"/>
<rect x="662.42" y="174.6" width="3.8" height="1.6" fill="#22a57c"/>
<line x1="668.25" x2="668.25" y1="162.5" y2="176.5" stroke="#5aa893" stroke-width="1"/>
<rect x="666.35" y="168.2" width="3.8" height="7.3" fill="#22a57c"/>
<line x1="672.17" x2="672.17" y1="162.5" y2="173.3" stroke="#dc7b81" stroke-width="1"/>
<rect x="670.27" y="168.2" width="3.8" height="3.6" fill="#e9535c"/>
<line x1="676.10" x2="676.10" y1="163.0" y2="172.8" stroke="#5aa893" stroke-width="1"/>
<rect x="674.20" y="169.7" width="3.8" height="2.6" fill="#22a57c"/>
<line x1="680.02" x2="680.02" y1="154.5" y2="169.5" stroke="#5aa893" stroke-width="1"/>
<rect x="678.12" y="165.4" width="3.8" height="3.6" fill="#22a57c"/>
<line x1="683.95" x2="683.95" y1="143.1" y2="165.9" stroke="#5aa893" stroke-width="1"/>
<rect x="682.05" y="151.9" width="3.8" height="13.5" fill="#22a57c"/>
<line x1="687.88" x2="687.88" y1="131.7" y2="152.4" stroke="#5aa893" stroke-width="1"/>
<rect x="685.98" y="133.8" width="3.8" height="18.1" fill="#22a57c"/>
<line x1="691.80" x2="691.80" y1="126.6" y2="143.1" stroke="#5aa893" stroke-width="1"/>
<rect x="689.90" y="133.0" width="3.8" height="1.6" fill="#22a57c"/>
<line x1="695.72" x2="695.72" y1="129.7" y2="144.2" stroke="#dc7b81" stroke-width="1"/>
<rect x="693.82" y="133.3" width="3.8" height="6.2" fill="#e9535c"/>
<line x1="699.65" x2="699.65" y1="134.8" y2="142.1" stroke="#5aa893" stroke-width="1"/>
<rect x="697.75" y="137.9" width="3.8" height="1.6" fill="#22a57c"/>
<line x1="703.57" x2="703.57" y1="86.0" y2="137.2" stroke="#5aa893" stroke-width="1"/>
<rect x="701.67" y="87.5" width="3.8" height="49.7" fill="#22a57c"/>
<line x1="707.50" x2="707.50" y1="48.3" y2="131.4" stroke="#dc7b81" stroke-width="1"/>
<rect x="705.60" y="87.5" width="3.8" height="13.3" fill="#e9535c"/>
<line x1="711.42" x2="711.42" y1="82.3" y2="102.3" stroke="#5aa893" stroke-width="1"/>
<rect x="709.52" y="87.5" width="3.8" height="14.1" fill="#22a57c"/>
<line x1="715.35" x2="715.35" y1="84.5" y2="105.2" stroke="#dc7b81" stroke-width="1"/>
<rect x="713.45" y="87.5" width="3.8" height="8.1" fill="#e9535c"/>
<line x1="719.27" x2="719.27" y1="68.3" y2="98.6" stroke="#5aa893" stroke-width="1"/>
<rect x="717.38" y="74.9" width="3.8" height="20.0" fill="#22a57c"/>
<line x1="723.20" x2="723.20" y1="37.2" y2="75.7" stroke="#5aa893" stroke-width="1"/>
<rect x="721.30" y="41.6" width="3.8" height="33.3" fill="#22a57c"/>
<line x1="727.12" x2="727.12" y1="19.4" y2="63.8" stroke="#dc7b81" stroke-width="1"/>
<rect x="725.23" y="41.6" width="3.8" height="12.6" fill="#e9535c"/>
<line x1="731.05" x2="731.05" y1="33.5" y2="77.1" stroke="#5aa893" stroke-width="1"/>
<rect x="729.15" y="35.0" width="3.8" height="19.2" fill="#22a57c"/>
<line x1="734.97" x2="734.97" y1="33.5" y2="57.9" stroke="#dc7b81" stroke-width="1"/>
<rect x="733.07" y="35.0" width="3.8" height="22.9" fill="#e9535c"/>
<line x1="738.90" x2="738.90" y1="46.1" y2="69.7" stroke="#5aa893" stroke-width="1"/>
<rect x="737.00" y="56.9" width="3.8" height="1.6" fill="#22a57c"/>
<line x1="742.82" x2="742.82" y1="56.4" y2="95.6" stroke="#dc7b81" stroke-width="1"/>
<rect x="740.92" y="57.2" width="3.8" height="36.2" fill="#e9535c"/>
<line x1="746.75" x2="746.75" y1="88.4" y2="119.2" stroke="#5aa893" stroke-width="1"/>
<rect x="744.85" y="91.8" width="3.8" height="1.6" fill="#22a57c"/>
<line x1="750.67" x2="750.67" y1="90.2" y2="114.5" stroke="#dc7b81" stroke-width="1"/>
<rect x="748.77" y="92.6" width="3.8" height="15.4" fill="#e9535c"/>
<line x1="754.60" x2="754.60" y1="75.4" y2="110.9" stroke="#5aa893" stroke-width="1"/>
<rect x="752.70" y="87.3" width="3.8" height="20.7" fill="#22a57c"/>
<line x1="758.52" x2="758.52" y1="75.4" y2="90.8" stroke="#5aa893" stroke-width="1"/>
<rect x="756.62" y="84.9" width="3.8" height="1.8" fill="#22a57c"/>
<line x1="762.45" x2="762.45" y1="73.6" y2="100.9" stroke="#dc7b81" stroke-width="1"/>
<rect x="760.55" y="85.5" width="3.8" height="4.1" fill="#e9535c"/>
<line x1="766.37" x2="766.37" y1="80.1" y2="95.0" stroke="#5aa893" stroke-width="1"/>
<rect x="764.47" y="81.3" width="3.8" height="8.3" fill="#22a57c"/>
<line x1="770.30" x2="770.30" y1="67.7" y2="97.9" stroke="#dc7b81" stroke-width="1"/>
<rect x="768.40" y="81.3" width="3.8" height="11.8" fill="#e9535c"/>
<line x1="774.22" x2="774.22" y1="87.8" y2="119.2" stroke="#dc7b81" stroke-width="1"/>
<rect x="772.32" y="92.6" width="3.8" height="18.4" fill="#e9535c"/>
<line x1="778.15" x2="778.15" y1="106.8" y2="131.7" stroke="#5aa893" stroke-width="1"/>
<rect x="776.25" y="107.4" width="3.8" height="4.1" fill="#22a57c"/>
<line x1="782.07" x2="782.07" y1="100.3" y2="121.6" stroke="#dc7b81" stroke-width="1"/>
<rect x="780.17" y="107.4" width="3.8" height="7.1" fill="#e9535c"/>
<line x1="786.00" x2="786.00" y1="113.9" y2="137.6" stroke="#dc7b81" stroke-width="1"/>
<rect x="784.10" y="114.5" width="3.8" height="11.8" fill="#e9535c"/>
<line x1="789.92" x2="789.92" y1="97.8" y2="127.4" stroke="#5aa893" stroke-width="1"/>
<rect x="788.02" y="98.4" width="3.8" height="28.4" fill="#22a57c"/>
<line x1="793.85" x2="793.85" y1="87.7" y2="104.9" stroke="#dc7b81" stroke-width="1"/>
<rect x="791.95" y="98.4" width="3.8" height="4.7" fill="#e9535c"/>
<line x1="797.77" x2="797.77" y1="96.0" y2="129.8" stroke="#dc7b81" stroke-width="1"/>
<rect x="795.88" y="103.1" width="3.8" height="22.5" fill="#e9535c"/>
<line x1="801.70" x2="801.70" y1="115.5" y2="138.6" stroke="#5aa893" stroke-width="1"/>
<rect x="799.80" y="123.9" width="3.8" height="1.6" fill="#22a57c"/>
<line x1="805.62" x2="805.62" y1="122.1" y2="136.3" stroke="#dc7b81" stroke-width="1"/>
<rect x="803.72" y="124.4" width="3.8" height="11.3" fill="#e9535c"/>
<line x1="809.55" x2="809.55" y1="117.3" y2="141.0" stroke="#5aa893" stroke-width="1"/>
<rect x="807.65" y="117.9" width="3.8" height="17.8" fill="#22a57c"/>
<line x1="813.47" x2="813.47" y1="115.0" y2="124.4" stroke="#5aa893" stroke-width="1"/>
<rect x="811.57" y="116.1" width="3.8" height="1.8" fill="#22a57c"/>
<line x1="817.40" x2="817.40" y1="100.1" y2="116.7" stroke="#5aa893" stroke-width="1"/>
<rect x="815.50" y="108.4" width="3.8" height="7.7" fill="#22a57c"/>
<line x1="821.32" x2="821.32" y1="96.6" y2="112.6" stroke="#dc7b81" stroke-width="1"/>
<rect x="819.42" y="108.4" width="3.8" height="3.6" fill="#e9535c"/>
<line x1="825.25" x2="825.25" y1="99.0" y2="115.5" stroke="#5aa893" stroke-width="1"/>
<rect x="823.35" y="102.5" width="3.8" height="8.9" fill="#22a57c"/>
<line x1="829.17" x2="829.17" y1="83.0" y2="135.7" stroke="#dc7b81" stroke-width="1"/>
<rect x="827.27" y="101.9" width="3.8" height="25.5" fill="#e9535c"/>
<line x1="833.10" x2="833.10" y1="125.0" y2="164.9" stroke="#dc7b81" stroke-width="1"/>
<rect x="831.20" y="127.7" width="3.8" height="31.3" fill="#e9535c"/>
<line x1="837.02" x2="837.02" y1="155.0" y2="213.5" stroke="#dc7b81" stroke-width="1"/>
<rect x="835.12" y="159.0" width="3.8" height="26.6" fill="#e9535c"/>
<line x1="840.95" x2="840.95" y1="176.9" y2="208.9" stroke="#dc7b81" stroke-width="1"/>
<rect x="839.05" y="186.3" width="3.8" height="9.3" fill="#e9535c"/>
<line x1="844.87" x2="844.87" y1="186.3" y2="213.5" stroke="#5aa893" stroke-width="1"/>
<rect x="842.97" y="193.6" width="3.8" height="2.0" fill="#22a57c"/>
<line x1="848.80" x2="848.80" y1="180.9" y2="199.6" stroke="#5aa893" stroke-width="1"/>
<rect x="846.90" y="186.3" width="3.8" height="8.0" fill="#22a57c"/>
<line x1="852.72" x2="852.72" y1="164.9" y2="188.9" stroke="#5aa893" stroke-width="1"/>
<rect x="850.82" y="180.9" width="3.8" height="5.3" fill="#22a57c"/>
<line x1="856.65" x2="856.65" y1="174.3" y2="192.9" stroke="#5aa893" stroke-width="1"/>
<rect x="854.75" y="176.9" width="3.8" height="4.7" fill="#22a57c"/>
<line x1="860.57" x2="860.57" y1="171.6" y2="182.3" stroke="#5aa893" stroke-width="1"/>
<rect x="858.67" y="175.6" width="3.8" height="2.0" fill="#22a57c"/>
<line x1="864.50" x2="864.50" y1="170.9" y2="186.3" stroke="#5aa893" stroke-width="1"/>
<rect x="862.60" y="173.6" width="3.8" height="2.0" fill="#22a57c"/>
<line x1="868.42" x2="868.42" y1="160.3" y2="174.3" stroke="#5aa893" stroke-width="1"/>
<rect x="866.52" y="162.3" width="3.8" height="11.3" fill="#22a57c"/>
<line x1="872.35" x2="872.35" y1="154.5" y2="177.0" stroke="#dc7b81" stroke-width="1"/>
<rect x="870.45" y="162.8" width="3.8" height="13.6" fill="#e9535c"/>
<line x1="876.27" x2="876.27" y1="161.6" y2="177.0" stroke="#5aa893" stroke-width="1"/>
<rect x="874.38" y="166.3" width="3.8" height="10.1" fill="#22a57c"/>
<line x1="880.20" x2="880.20" y1="162.2" y2="177.6" stroke="#dc7b81" stroke-width="1"/>
<rect x="878.30" y="165.7" width="3.8" height="10.7" fill="#e9535c"/>
<line x1="884.12" x2="884.12" y1="173.4" y2="191.8" stroke="#dc7b81" stroke-width="1"/>
<rect x="882.22" y="176.4" width="3.8" height="10.7" fill="#e9535c"/>
<line x1="888.05" x2="888.05" y1="181.7" y2="190.6" stroke="#dc7b81" stroke-width="1"/>
<rect x="886.15" y="186.3" width="3.8" height="1.6" fill="#e9535c"/>
<line x1="891.97" x2="891.97" y1="181.1" y2="188.8" stroke="#5aa893" stroke-width="1"/>
<rect x="890.07" y="186.3" width="3.8" height="1.6" fill="#22a57c"/>
<line x1="895.90" x2="895.90" y1="184.1" y2="192.4" stroke="#5aa893" stroke-width="1"/>
<rect x="894.00" y="185.7" width="3.8" height="1.6" fill="#22a57c"/>
<line x1="899.82" x2="899.82" y1="185.9" y2="198.3" stroke="#dc7b81" stroke-width="1"/>
<rect x="897.92" y="186.5" width="3.8" height="10.1" fill="#e9535c"/>
<line x1="903.75" x2="903.75" y1="188.8" y2="209.6" stroke="#dc7b81" stroke-width="1"/>
<rect x="901.85" y="196.5" width="3.8" height="11.3" fill="#e9535c"/>
<line x1="907.67" x2="907.67" y1="201.9" y2="213.7" stroke="#dc7b81" stroke-width="1"/>
<rect x="905.77" y="206.4" width="3.8" height="1.6" fill="#e9535c"/>
<line x1="911.60" x2="911.60" y1="204.2" y2="212.5" stroke="#dc7b81" stroke-width="1"/>
<rect x="909.70" y="207.0" width="3.8" height="1.6" fill="#e9535c"/>
<line x1="915.52" x2="915.52" y1="200.7" y2="217.3" stroke="#5aa893" stroke-width="1"/>
<rect x="913.62" y="203.1" width="3.8" height="5.9" fill="#22a57c"/>
<line x1="919.45" x2="919.45" y1="197.1" y2="206.0" stroke="#5aa893" stroke-width="1"/>
<rect x="917.55" y="200.1" width="3.8" height="3.0" fill="#22a57c"/>
<line x1="923.37" x2="923.37" y1="196.5" y2="204.2" stroke="#dc7b81" stroke-width="1"/>
<rect x="921.47" y="199.3" width="3.8" height="1.6" fill="#e9535c"/>
<line x1="927.30" x2="927.30" y1="193.0" y2="204.2" stroke="#5aa893" stroke-width="1"/>
<rect x="925.40" y="198.7" width="3.8" height="1.6" fill="#22a57c"/>
<line x1="931.22" x2="931.22" y1="187.7" y2="200.7" stroke="#5aa893" stroke-width="1"/>
<rect x="929.32" y="191.2" width="3.8" height="8.9" fill="#22a57c"/>
<line x1="935.15" x2="935.15" y1="184.1" y2="195.9" stroke="#5aa893" stroke-width="1"/>
<rect x="933.25" y="190.4" width="3.8" height="1.6" fill="#22a57c"/>
<line x1="939.07" x2="939.07" y1="171.1" y2="191.8" stroke="#5aa893" stroke-width="1"/>
<rect x="937.17" y="173.4" width="3.8" height="17.8" fill="#22a57c"/>
<line x1="943.00" x2="943.00" y1="156.3" y2="177.0" stroke="#5aa893" stroke-width="1"/>
<rect x="941.10" y="162.2" width="3.8" height="11.3" fill="#22a57c"/>
<rect x="11.28" y="438.9" width="3" height="27.4" fill="#f7b7b5"/>
<rect x="15.20" y="437.4" width="3" height="28.9" fill="#a8dcd3"/>
<rect x="19.12" y="439.6" width="3" height="26.7" fill="#a8dcd3"/>
<rect x="23.05" y="444.1" width="3" height="22.2" fill="#f7b7b5"/>
<rect x="26.98" y="450.7" width="3" height="15.6" fill="#a8dcd3"/>
<rect x="30.90" y="440.4" width="3" height="25.9" fill="#a8dcd3"/>
<rect x="34.82" y="435.2" width="3" height="31.1" fill="#f7b7b5"/>
<rect x="38.75" y="454.4" width="3" height="11.9" fill="#f7b7b5"/>
<rect x="42.67" y="450.7" width="3" height="15.6" fill="#f7b7b5"/>
<rect x="46.60" y="435.9" width="3" height="30.4" fill="#f7b7b5"/>
<rect x="50.52" y="424.5" width="3" height="41.8" fill="#a8dcd3"/>
<rect x="54.45" y="437.4" width="3" height="28.9" fill="#a8dcd3"/>
<rect x="58.37" y="447.0" width="3" height="19.3" fill="#a8dcd3"/>
<rect x="62.30" y="439.6" width="3" height="26.7" fill="#f7b7b5"/>
<rect x="66.22" y="448.5" width="3" height="17.8" fill="#a8dcd3"/>
<rect x="70.15" y="454.4" width="3" height="11.9" fill="#f7b7b5"/>
<rect x="74.08" y="451.5" width="3" height="14.8" fill="#a8dcd3"/>
<rect x="78.00" y="453.0" width="3" height="13.3" fill="#f7b7b5"/>
<rect x="81.92" y="447.8" width="3" height="18.5" fill="#f7b7b5"/>
<rect x="85.85" y="437.4" width="3" height="28.9" fill="#f7b7b5"/>
<rect x="89.78" y="434.4" width="3" height="31.9" fill="#a8dcd3"/>
<rect x="93.70" y="436.7" width="3" height="29.6" fill="#f7b7b5"/>
<rect x="97.62" y="451.2" width="3" height="15.1" fill="#f7b7b5"/>
<rect x="101.55" y="447.8" width="3" height="18.5" fill="#f7b7b5"/>
<rect x="105.47" y="452.2" width="3" height="14.1" fill="#a8dcd3"/>
<rect x="109.40" y="450.7" width="3" height="15.6" fill="#f7b7b5"/>
<rect x="113.33" y="455.2" width="3" height="11.1" fill="#f7b7b5"/>
<rect x="117.25" y="450.7" width="3" height="15.6" fill="#a8dcd3"/>
<rect x="121.17" y="452.2" width="3" height="14.1" fill="#f7b7b5"/>
<rect x="125.10" y="459.6" width="3" height="6.7" fill="#a8dcd3"/>
<rect x="129.03" y="447.0" width="3" height="19.3" fill="#f7b7b5"/>
<rect x="132.95" y="437.4" width="3" height="28.9" fill="#f7b7b5"/>
<rect x="136.88" y="448.5" width="3" height="17.8" fill="#a8dcd3"/>
<rect x="140.80" y="455.9" width="3" height="10.4" fill="#f7b7b5"/>
<rect x="144.72" y="410.0" width="3" height="56.3" fill="#f7b7b5"/>
<rect x="148.65" y="373.0" width="3" height="93.3" fill="#f7b7b5"/>
<rect x="152.57" y="429.3" width="3" height="37.0" fill="#a8dcd3"/>
<rect x="156.50" y="448.2" width="3" height="18.1" fill="#f7b7b5"/>
<rect x="160.43" y="429.3" width="3" height="37.0" fill="#f7b7b5"/>
<rect x="164.35" y="434.4" width="3" height="31.9" fill="#a8dcd3"/>
<rect x="168.28" y="437.4" width="3" height="28.9" fill="#a8dcd3"/>
<rect x="172.20" y="414.4" width="3" height="51.9" fill="#a8dcd3"/>
<rect x="176.12" y="417.1" width="3" height="49.2" fill="#a8dcd3"/>
<rect x="180.05" y="397.9" width="3" height="68.4" fill="#a8dcd3"/>
<rect x="183.97" y="432.2" width="3" height="34.1" fill="#f7b7b5"/>
<rect x="187.90" y="437.4" width="3" height="28.9" fill="#f7b7b5"/>
<rect x="191.82" y="447.0" width="3" height="19.3" fill="#a8dcd3"/>
<rect x="195.75" y="451.2" width="3" height="15.1" fill="#f7b7b5"/>
<rect x="199.67" y="458.1" width="3" height="8.2" fill="#f7b7b5"/>
<rect x="203.60" y="455.9" width="3" height="10.4" fill="#a8dcd3"/>
<rect x="207.53" y="450.0" width="3" height="16.3" fill="#f7b7b5"/>
<rect x="211.45" y="458.1" width="3" height="8.2" fill="#f7b7b5"/>
<rect x="215.38" y="455.9" width="3" height="10.4" fill="#a8dcd3"/>
<rect x="219.30" y="457.4" width="3" height="8.9" fill="#a8dcd3"/>
<rect x="223.22" y="457.1" width="3" height="9.2" fill="#f7b7b5"/>
<rect x="227.15" y="456.2" width="3" height="10.1" fill="#a8dcd3"/>
<rect x="231.07" y="451.2" width="3" height="15.1" fill="#f7b7b5"/>
<rect x="235.00" y="457.4" width="3" height="8.9" fill="#a8dcd3"/>
<rect x="238.92" y="458.9" width="3" height="7.4" fill="#a8dcd3"/>
<rect x="242.85" y="439.6" width="3" height="26.7" fill="#a8dcd3"/>
<rect x="246.78" y="435.2" width="3" height="31.1" fill="#a8dcd3"/>
<rect x="250.70" y="445.6" width="3" height="20.7" fill="#f7b7b5"/>
<rect x="254.62" y="438.4" width="3" height="27.9" fill="#a8dcd3"/>
<rect x="258.55" y="412.7" width="3" height="53.6" fill="#f7b7b5"/>
<rect x="262.47" y="444.1" width="3" height="22.2" fill="#a8dcd3"/>
<rect x="266.40" y="452.2" width="3" height="14.1" fill="#a8dcd3"/>
<rect x="270.32" y="448.5" width="3" height="17.8" fill="#f7b7b5"/>
<rect x="274.25" y="455.9" width="3" height="10.4" fill="#a8dcd3"/>
<rect x="278.17" y="455.9" width="3" height="10.4" fill="#f7b7b5"/>
<rect x="282.10" y="427.5" width="3" height="38.8" fill="#a8dcd3"/>
<rect x="286.02" y="454.7" width="3" height="11.6" fill="#f7b7b5"/>
<rect x="289.95" y="436.4" width="3" height="29.9" fill="#a8dcd3"/>
<rect x="293.87" y="426.3" width="3" height="40.0" fill="#a8dcd3"/>
<rect x="297.80" y="404.8" width="3" height="61.5" fill="#f7b7b5"/>
<rect x="301.72" y="396.7" width="3" height="69.6" fill="#f7b7b5"/>
<rect x="305.65" y="430.0" width="3" height="36.3" fill="#a8dcd3"/>
<rect x="309.57" y="428.5" width="3" height="37.8" fill="#a8dcd3"/>
<rect x="313.50" y="447.0" width="3" height="19.3" fill="#f7b7b5"/>
<rect x="317.42" y="444.1" width="3" height="22.2" fill="#a8dcd3"/>
<rect x="321.35" y="450.0" width="3" height="16.3" fill="#f7b7b5"/>
<rect x="325.27" y="452.7" width="3" height="13.6" fill="#f7b7b5"/>
<rect x="329.20" y="453.7" width="3" height="12.6" fill="#a8dcd3"/>
<rect x="333.12" y="443.3" width="3" height="23.0" fill="#a8dcd3"/>
<rect x="337.05" y="422.6" width="3" height="43.7" fill="#f7b7b5"/>
<rect x="340.97" y="452.7" width="3" height="13.6" fill="#f7b7b5"/>
<rect x="344.90" y="459.6" width="3" height="6.7" fill="#a8dcd3"/>
<rect x="348.82" y="453.7" width="3" height="12.6" fill="#f7b7b5"/>
<rect x="352.75" y="452.7" width="3" height="13.6" fill="#f7b7b5"/>
<rect x="356.67" y="458.1" width="3" height="8.2" fill="#f7b7b5"/>
<rect x="360.60" y="458.6" width="3" height="7.7" fill="#a8dcd3"/>
<rect x="364.52" y="455.9" width="3" height="10.4" fill="#f7b7b5"/>
<rect x="368.45" y="453.7" width="3" height="12.6" fill="#a8dcd3"/>
<rect x="372.37" y="441.1" width="3" height="25.2" fill="#a8dcd3"/>
<rect x="376.30" y="438.9" width="3" height="27.4" fill="#f7b7b5"/>
<rect x="380.22" y="446.7" width="3" height="19.6" fill="#f7b7b5"/>
<rect x="384.15" y="444.1" width="3" height="22.2" fill="#a8dcd3"/>
<rect x="388.07" y="455.9" width="3" height="10.4" fill="#a8dcd3"/>
<rect x="392.00" y="452.7" width="3" height="13.6" fill="#a8dcd3"/>
<rect x="395.92" y="455.2" width="3" height="11.1" fill="#f7b7b5"/>
<rect x="399.85" y="458.9" width="3" height="7.4" fill="#f7b7b5"/>
<rect x="403.77" y="443.3" width="3" height="23.0" fill="#a8dcd3"/>
<rect x="407.70" y="424.8" width="3" height="41.5" fill="#a8dcd3"/>
<rect x="411.62" y="447.0" width="3" height="19.3" fill="#f7b7b5"/>
<rect x="415.55" y="435.9" width="3" height="30.4" fill="#f7b7b5"/>
<rect x="419.47" y="438.9" width="3" height="27.4" fill="#f7b7b5"/>
<rect x="423.40" y="443.3" width="3" height="23.0" fill="#a8dcd3"/>
<rect x="427.32" y="455.9" width="3" height="10.4" fill="#f7b7b5"/>
<rect x="431.25" y="458.1" width="3" height="8.2" fill="#f7b7b5"/>
<rect x="435.17" y="454.4" width="3" height="11.9" fill="#f7b7b5"/>
<rect x="439.10" y="458.1" width="3" height="8.2" fill="#f7b7b5"/>
<rect x="443.02" y="458.1" width="3" height="8.2" fill="#a8dcd3"/>
<rect x="446.95" y="458.1" width="3" height="8.2" fill="#a8dcd3"/>
<rect x="450.87" y="457.4" width="3" height="8.9" fill="#f7b7b5"/>
<rect x="454.80" y="440.4" width="3" height="25.9" fill="#a8dcd3"/>
<rect x="458.72" y="424.8" width="3" height="41.5" fill="#f7b7b5"/>
<rect x="462.65" y="441.9" width="3" height="24.4" fill="#a8dcd3"/>
<rect x="466.57" y="433.4" width="3" height="32.9" fill="#f7b7b5"/>
<rect x="470.50" y="450.0" width="3" height="16.3" fill="#a8dcd3"/>
<rect x="474.42" y="453.0" width="3" height="13.3" fill="#a8dcd3"/>
<rect x="478.35" y="447.8" width="3" height="18.5" fill="#a8dcd3"/>
<rect x="482.27" y="455.9" width="3" height="10.4" fill="#a8dcd3"/>
<rect x="486.20" y="455.9" width="3" height="10.4" fill="#f7b7b5"/>
<rect x="490.12" y="459.6" width="3" height="6.7" fill="#a8dcd3"/>
<rect x="494.05" y="459.6" width="3" height="6.7" fill="#f7b7b5"/>
<rect x="497.97" y="452.2" width="3" height="14.1" fill="#a8dcd3"/>
<rect x="501.90" y="440.8" width="3" height="25.5" fill="#f7b7b5"/>
<rect x="505.82" y="440.4" width="3" height="25.9" fill="#f7b7b5"/>
<rect x="509.75" y="457.4" width="3" height="8.9" fill="#a8dcd3"/>
<rect x="513.67" y="455.6" width="3" height="10.7" fill="#f7b7b5"/>
<rect x="517.60" y="447.0" width="3" height="19.3" fill="#a8dcd3"/>
<rect x="521.52" y="447.8" width="3" height="18.5" fill="#a8dcd3"/>
<rect x="525.45" y="458.6" width="3" height="7.7" fill="#f7b7b5"/>
<rect x="529.38" y="458.6" width="3" height="7.7" fill="#f7b7b5"/>
<rect x="533.30" y="455.9" width="3" height="10.4" fill="#f7b7b5"/>
<rect x="537.22" y="455.9" width="3" height="10.4" fill="#f7b7b5"/>
<rect x="541.15" y="460.7" width="3" height="5.6" fill="#a8dcd3"/>
<rect x="545.07" y="450.7" width="3" height="15.6" fill="#a8dcd3"/>
<rect x="549.00" y="435.2" width="3" height="31.1" fill="#a8dcd3"/>
<rect x="552.92" y="411.9" width="3" height="54.4" fill="#f7b7b5"/>
<rect x="556.85" y="437.9" width="3" height="28.4" fill="#a8dcd3"/>
<rect x="560.77" y="444.8" width="3" height="21.5" fill="#f7b7b5"/>
<rect x="564.70" y="455.6" width="3" height="10.7" fill="#f7b7b5"/>
<rect x="568.62" y="442.6" width="3" height="23.7" fill="#f7b7b5"/>
<rect x="572.55" y="447.8" width="3" height="18.5" fill="#f7b7b5"/>
<rect x="576.47" y="449.3" width="3" height="17.0" fill="#f7b7b5"/>
<rect x="580.40" y="453.7" width="3" height="12.6" fill="#a8dcd3"/>
<rect x="584.32" y="445.6" width="3" height="20.7" fill="#f7b7b5"/>
<rect x="588.25" y="449.3" width="3" height="17.0" fill="#a8dcd3"/>
<rect x="592.17" y="458.6" width="3" height="7.7" fill="#f7b7b5"/>
<rect x="596.10" y="455.9" width="3" height="10.4" fill="#f7b7b5"/>
<rect x="600.02" y="445.6" width="3" height="20.7" fill="#a8dcd3"/>
<rect x="603.95" y="446.3" width="3" height="20.0" fill="#a8dcd3"/>
<rect x="607.88" y="441.1" width="3" height="25.2" fill="#a8dcd3"/>
<rect x="611.80" y="444.1" width="3" height="22.2" fill="#f7b7b5"/>
<rect x="615.72" y="449.7" width="3" height="16.6" fill="#f7b7b5"/>
<rect x="619.65" y="454.4" width="3" height="11.9" fill="#f7b7b5"/>
<rect x="623.57" y="448.5" width="3" height="17.8" fill="#a8dcd3"/>
<rect x="627.50" y="418.9" width="3" height="47.4" fill="#a8dcd3"/>
<rect x="631.42" y="441.1" width="3" height="25.2" fill="#f7b7b5"/>
<rect x="635.35" y="439.6" width="3" height="26.7" fill="#a8dcd3"/>
<rect x="639.27" y="440.4" width="3" height="25.9" fill="#f7b7b5"/>
<rect x="643.20" y="445.9" width="3" height="20.4" fill="#a8dcd3"/>
<rect x="647.12" y="453.7" width="3" height="12.6" fill="#f7b7b5"/>
<rect x="651.05" y="454.4" width="3" height="11.9" fill="#f7b7b5"/>
<rect x="654.97" y="455.9" width="3" height="10.4" fill="#a8dcd3"/>
<rect x="658.90" y="440.4" width="3" height="25.9" fill="#a8dcd3"/>
<rect x="662.82" y="444.8" width="3" height="21.5" fill="#a8dcd3"/>
<rect x="666.75" y="447.8" width="3" height="18.5" fill="#a8dcd3"/>
<rect x="670.67" y="447.3" width="3" height="19.0" fill="#f7b7b5"/>
<rect x="674.60" y="450.0" width="3" height="16.3" fill="#a8dcd3"/>
<rect x="678.52" y="438.1" width="3" height="28.2" fill="#a8dcd3"/>
<rect x="682.45" y="431.0" width="3" height="35.3" fill="#a8dcd3"/>
<rect x="686.38" y="432.2" width="3" height="34.1" fill="#a8dcd3"/>
<rect x="690.30" y="445.6" width="3" height="20.7" fill="#a8dcd3"/>
<rect x="694.22" y="453.3" width="3" height="13.0" fill="#f7b7b5"/>
<rect x="698.15" y="448.5" width="3" height="17.8" fill="#a8dcd3"/>
<rect x="702.07" y="418.9" width="3" height="47.4" fill="#a8dcd3"/>
<rect x="706.00" y="381.6" width="3" height="84.7" fill="#f7b7b5"/>
<rect x="709.92" y="439.6" width="3" height="26.7" fill="#a8dcd3"/>
<rect x="713.85" y="442.6" width="3" height="23.7" fill="#f7b7b5"/>
<rect x="717.77" y="435.9" width="3" height="30.4" fill="#a8dcd3"/>
<rect x="721.70" y="415.6" width="3" height="50.7" fill="#a8dcd3"/>
<rect x="725.62" y="421.9" width="3" height="44.4" fill="#f7b7b5"/>
<rect x="729.55" y="434.4" width="3" height="31.9" fill="#a8dcd3"/>
<rect x="733.47" y="442.6" width="3" height="23.7" fill="#f7b7b5"/>
<rect x="737.40" y="438.9" width="3" height="27.4" fill="#a8dcd3"/>
<rect x="741.32" y="426.3" width="3" height="40.0" fill="#f7b7b5"/>
<rect x="745.25" y="399.3" width="3" height="67.0" fill="#a8dcd3"/>
<rect x="749.17" y="435.2" width="3" height="31.1" fill="#f7b7b5"/>
<rect x="753.10" y="432.2" width="3" height="34.1" fill="#a8dcd3"/>
<rect x="757.02" y="439.6" width="3" height="26.7" fill="#a8dcd3"/>
<rect x="760.95" y="442.6" width="3" height="23.7" fill="#f7b7b5"/>
<rect x="764.87" y="447.0" width="3" height="19.3" fill="#a8dcd3"/>
<rect x="768.80" y="429.6" width="3" height="36.7" fill="#f7b7b5"/>
<rect x="772.72" y="435.2" width="3" height="31.1" fill="#f7b7b5"/>
<rect x="776.65" y="441.9" width="3" height="24.4" fill="#a8dcd3"/>
<rect x="780.57" y="443.3" width="3" height="23.0" fill="#f7b7b5"/>
<rect x="784.50" y="441.6" width="3" height="24.7" fill="#f7b7b5"/>
<rect x="788.42" y="440.0" width="3" height="26.3" fill="#a8dcd3"/>
<rect x="792.35" y="434.5" width="3" height="31.8" fill="#f7b7b5"/>
<rect x="796.27" y="435.3" width="3" height="31.0" fill="#f7b7b5"/>
<rect x="800.20" y="427.9" width="3" height="38.4" fill="#a8dcd3"/>
<rect x="804.12" y="447.1" width="3" height="19.2" fill="#f7b7b5"/>
<rect x="808.05" y="433.7" width="3" height="32.6" fill="#a8dcd3"/>
<rect x="811.97" y="451.9" width="3" height="14.4" fill="#a8dcd3"/>
<rect x="815.90" y="440.8" width="3" height="25.5" fill="#a8dcd3"/>
<rect x="819.82" y="449.5" width="3" height="16.8" fill="#f7b7b5"/>
<rect x="823.75" y="445.6" width="3" height="20.7" fill="#a8dcd3"/>
<rect x="827.67" y="432.2" width="3" height="34.1" fill="#f7b7b5"/>
<rect x="831.60" y="428.2" width="3" height="38.1" fill="#f7b7b5"/>
<rect x="835.52" y="405.4" width="3" height="60.9" fill="#f7b7b5"/>
<rect x="839.45" y="429.5" width="3" height="36.8" fill="#f7b7b5"/>
<rect x="843.37" y="424.8" width="3" height="41.5" fill="#a8dcd3"/>
<rect x="847.30" y="437.4" width="3" height="28.9" fill="#a8dcd3"/>
<rect x="851.22" y="423.5" width="3" height="42.8" fill="#a8dcd3"/>
<rect x="855.15" y="433.0" width="3" height="33.3" fill="#a8dcd3"/>
<rect x="859.07" y="442.4" width="3" height="23.9" fill="#a8dcd3"/>
<rect x="863.00" y="435.3" width="3" height="31.0" fill="#a8dcd3"/>
<rect x="866.92" y="446.3" width="3" height="20.0" fill="#a8dcd3"/>
<rect x="870.85" y="444.0" width="3" height="22.3" fill="#f7b7b5"/>
<rect x="874.77" y="447.9" width="3" height="18.4" fill="#a8dcd3"/>
<rect x="878.70" y="452.6" width="3" height="13.7" fill="#f7b7b5"/>
<rect x="882.62" y="443.2" width="3" height="23.1" fill="#f7b7b5"/>
<rect x="886.55" y="453.1" width="3" height="13.2" fill="#f7b7b5"/>
<rect x="890.47" y="456.9" width="3" height="9.4" fill="#a8dcd3"/>
<rect x="894.40" y="458.1" width="3" height="8.2" fill="#a8dcd3"/>
<rect x="898.32" y="455.8" width="3" height="10.5" fill="#f7b7b5"/>
<rect x="902.25" y="441.6" width="3" height="24.7" fill="#f7b7b5"/>
<rect x="906.17" y="450.3" width="3" height="16.0" fill="#f7b7b5"/>
<rect x="910.10" y="455.8" width="3" height="10.5" fill="#f7b7b5"/>
<rect x="914.02" y="448.4" width="3" height="17.9" fill="#a8dcd3"/>
<rect x="917.95" y="454.2" width="3" height="12.1" fill="#a8dcd3"/>
<rect x="921.87" y="458.9" width="3" height="7.4" fill="#f7b7b5"/>
<rect x="925.80" y="455.0" width="3" height="11.3" fill="#a8dcd3"/>
<rect x="929.72" y="451.1" width="3" height="15.2" fill="#a8dcd3"/>
<rect x="933.65" y="450.3" width="3" height="16.0" fill="#a8dcd3"/>
<rect x="937.57" y="441.6" width="3" height="24.7" fill="#a8dcd3"/>
<rect x="941.50" y="454.2" width="3" height="12.1" fill="#a8dcd3"/>
<line x1="12.50" x2="12.50" y1="563.1" y2="565.8" stroke="#d68d93" stroke-width="1"/>
<line x1="16.50" x2="16.50" y1="564.8" y2="565.8" stroke="#d68d93" stroke-width="1"/>
<line x1="20.50" x2="20.50" y1="565.8" y2="566.8" stroke="#d68d93" stroke-width="1"/>
<line x1="24.50" x2="24.50" y1="565.8" y2="568.2" stroke="#d68d93" stroke-width="1"/>
<line x1="28.50" x2="28.50" y1="565.8" y2="568.9" stroke="#d68d93" stroke-width="1"/>
<line x1="32.50" x2="32.50" y1="565.8" y2="568.8" stroke="#d68d93" stroke-width="1"/>
<line x1="36.50" x2="36.50" y1="565.8" y2="569.7" stroke="#d68d93" stroke-width="1"/>
<line x1="40.50" x2="40.50" y1="565.8" y2="570.5" stroke="#d68d93" stroke-width="1"/>
<line x1="44.50" x2="44.50" y1="565.8" y2="573.6" stroke="#d68d93" stroke-width="1"/>
<line x1="48.50" x2="48.50" y1="565.8" y2="580.3" stroke="#d68d93" stroke-width="1"/>
<line x1="52.50" x2="52.50" y1="565.8" y2="582.5" stroke="#d68d93" stroke-width="1"/>
<line x1="55.50" x2="55.50" y1="565.8" y2="583.2" stroke="#d68d93" stroke-width="1"/>
<line x1="59.50" x2="59.50" y1="565.8" y2="581.2" stroke="#d68d93" stroke-width="1"/>
<line x1="63.50" x2="63.50" y1="565.8" y2="582.9" stroke="#d68d93" stroke-width="1"/>
<line x1="67.50" x2="67.50" y1="565.8" y2="582.7" stroke="#d68d93" stroke-width="1"/>
<line x1="71.50" x2="71.50" y1="565.8" y2="583.2" stroke="#d68d93" stroke-width="1"/>
<line x1="75.50" x2="75.50" y1="565.8" y2="581.5" stroke="#d68d93" stroke-width="1"/>
<line x1="79.50" x2="79.50" y1="565.8" y2="580.6" stroke="#d68d93" stroke-width="1"/>
<line x1="83.50" x2="83.50" y1="565.8" y2="581.8" stroke="#d68d93" stroke-width="1"/>
<line x1="87.50" x2="87.50" y1="565.8" y2="585.5" stroke="#d68d93" stroke-width="1"/>
<line x1="91.50" x2="91.50" y1="565.8" y2="585.4" stroke="#d68d93" stroke-width="1"/>
<line x1="95.50" x2="95.50" y1="565.8" y2="585.1" stroke="#d68d93" stroke-width="1"/>
<line x1="99.50" x2="99.50" y1="565.8" y2="585.3" stroke="#d68d93" stroke-width="1"/>
<line x1="103.50" x2="103.50" y1="565.8" y2="584.7" stroke="#d68d93" stroke-width="1"/>
<line x1="106.50" x2="106.50" y1="565.8" y2="582.1" stroke="#d68d93" stroke-width="1"/>
<line x1="110.50" x2="110.50" y1="565.8" y2="580.1" stroke="#d68d93" stroke-width="1"/>
<line x1="114.50" x2="114.50" y1="565.8" y2="578.6" stroke="#d68d93" stroke-width="1"/>
<line x1="118.50" x2="118.50" y1="565.8" y2="575.2" stroke="#d68d93" stroke-width="1"/>
<line x1="122.50" x2="122.50" y1="565.8" y2="573.1" stroke="#d68d93" stroke-width="1"/>
<line x1="126.50" x2="126.50" y1="565.8" y2="570.5" stroke="#d68d93" stroke-width="1"/>
<line x1="130.50" x2="130.50" y1="565.8" y2="572.5" stroke="#d68d93" stroke-width="1"/>
<line x1="134.50" x2="134.50" y1="565.8" y2="576.0" stroke="#d68d93" stroke-width="1"/>
<line x1="138.50" x2="138.50" y1="565.8" y2="577.3" stroke="#d68d93" stroke-width="1"/>
<line x1="142.50" x2="142.50" y1="565.8" y2="577.8" stroke="#d68d93" stroke-width="1"/>
<line x1="146.50" x2="146.50" y1="565.8" y2="582.9" stroke="#d68d93" stroke-width="1"/>
<line x1="150.50" x2="150.50" y1="565.8" y2="587.0" stroke="#d68d93" stroke-width="1"/>
<line x1="154.50" x2="154.50" y1="565.8" y2="588.0" stroke="#d68d93" stroke-width="1"/>
<line x1="158.50" x2="158.50" y1="565.8" y2="587.1" stroke="#d68d93" stroke-width="1"/>
<line x1="161.50" x2="161.50" y1="565.8" y2="585.7" stroke="#d68d93" stroke-width="1"/>
<line x1="165.50" x2="165.50" y1="565.8" y2="582.8" stroke="#d68d93" stroke-width="1"/>
<line x1="169.50" x2="169.50" y1="565.8" y2="579.1" stroke="#d68d93" stroke-width="1"/>
<line x1="173.50" x2="173.50" y1="565.8" y2="572.7" stroke="#d68d93" stroke-width="1"/>
<line x1="177.50" x2="177.50" y1="565.8" y2="566.8" stroke="#d68d93" stroke-width="1"/>
<line x1="181.50" x2="181.50" y1="561.2" y2="565.8" stroke="#d68d93" stroke-width="1"/>
<line x1="185.50" x2="185.50" y1="559.0" y2="565.8" stroke="#d68d93" stroke-width="1"/>
<line x1="189.50" x2="189.50" y1="557.5" y2="565.8" stroke="#d68d93" stroke-width="1"/>
<line x1="193.50" x2="193.50" y1="555.9" y2="565.8" stroke="#d68d93" stroke-width="1"/>
<line x1="197.50" x2="197.50" y1="555.4" y2="565.8" stroke="#d68d93" stroke-width="1"/>
<line x1="201.50" x2="201.50" y1="555.1" y2="565.8" stroke="#d68d93" stroke-width="1"/>
<line x1="205.50" x2="205.50" y1="554.9" y2="565.8" stroke="#d68d93" stroke-width="1"/>
<line x1="209.50" x2="209.50" y1="555.9" y2="565.8" stroke="#d68d93" stroke-width="1"/>
<line x1="212.50" x2="212.50" y1="556.7" y2="565.8" stroke="#d68d93" stroke-width="1"/>
<line x1="216.50" x2="216.50" y1="556.9" y2="565.8" stroke="#d68d93" stroke-width="1"/>
<line x1="220.50" x2="220.50" y1="556.9" y2="565.8" stroke="#d68d93" stroke-width="1"/>
<line x1="224.50" x2="224.50" y1="557.2" y2="565.8" stroke="#d68d93" stroke-width="1"/>
<line x1="228.50" x2="228.50" y1="556.3" y2="565.8" stroke="#d68d93" stroke-width="1"/>
<line x1="232.50" x2="232.50" y1="556.1" y2="565.8" stroke="#d68d93" stroke-width="1"/>
<line x1="236.50" x2="236.50" y1="555.7" y2="565.8" stroke="#d68d93" stroke-width="1"/>
<line x1="240.50" x2="240.50" y1="555.6" y2="565.8" stroke="#d68d93" stroke-width="1"/>
<line x1="244.50" x2="244.50" y1="553.7" y2="565.8" stroke="#d68d93" stroke-width="1"/>
<line x1="248.50" x2="248.50" y1="552.5" y2="565.8" stroke="#d68d93" stroke-width="1"/>
<line x1="252.50" x2="252.50" y1="552.5" y2="565.8" stroke="#d68d93" stroke-width="1"/>
<line x1="256.50" x2="256.50" y1="551.3" y2="565.8" stroke="#d68d93" stroke-width="1"/>
<line x1="260.50" x2="260.50" y1="554.2" y2="565.8" stroke="#d68d93" stroke-width="1"/>
<line x1="263.50" x2="263.50" y1="555.7" y2="565.8" stroke="#d68d93" stroke-width="1"/>
<line x1="267.50" x2="267.50" y1="556.4" y2="565.8" stroke="#d68d93" stroke-width="1"/>
<line x1="271.50" x2="271.50" y1="558.4" y2="565.8" stroke="#d68d93" stroke-width="1"/>
<line x1="275.50" x2="275.50" y1="559.5" y2="565.8" stroke="#d68d93" stroke-width="1"/>
<line x1="279.50" x2="279.50" y1="561.0" y2="565.8" stroke="#d68d93" stroke-width="1"/>
<line x1="283.50" x2="283.50" y1="559.8" y2="565.8" stroke="#d68d93" stroke-width="1"/>
<line x1="287.50" x2="287.50" y1="559.9" y2="565.8" stroke="#d68d93" stroke-width="1"/>
<line x1="291.50" x2="291.50" y1="557.9" y2="565.8" stroke="#d68d93" stroke-width="1"/>
<line x1="295.50" x2="295.50" y1="555.3" y2="565.8" stroke="#d68d93" stroke-width="1"/>
<line x1="299.50" x2="299.50" y1="554.4" y2="565.8" stroke="#d68d93" stroke-width="1"/>
<line x1="303.50" x2="303.50" y1="556.4" y2="565.8" stroke="#d68d93" stroke-width="1"/>
<line x1="307.50" x2="307.50" y1="556.8" y2="565.8" stroke="#d68d93" stroke-width="1"/>
<line x1="311.50" x2="311.50" y1="557.0" y2="565.8" stroke="#d68d93" stroke-width="1"/>
<line x1="314.50" x2="314.50" y1="558.3" y2="565.8" stroke="#d68d93" stroke-width="1"/>
<line x1="318.50" x2="318.50" y1="559.5" y2="565.8" stroke="#d68d93" stroke-width="1"/>
<line x1="322.50" x2="322.50" y1="561.1" y2="565.8" stroke="#d68d93" stroke-width="1"/>
<line x1="326.50" x2="326.50" y1="563.4" y2="565.8" stroke="#d68d93" stroke-width="1"/>
<line x1="330.50" x2="330.50" y1="564.4" y2="565.8" stroke="#d68d93" stroke-width="1"/>
<line x1="334.50" x2="334.50" y1="563.8" y2="565.8" stroke="#d68d93" stroke-width="1"/>
<line x1="338.50" x2="338.50" y1="564.2" y2="565.8" stroke="#d68d93" stroke-width="1"/>
<line x1="342.50" x2="342.50" y1="564.8" y2="565.8" stroke="#d68d93" stroke-width="1"/>
<line x1="346.50" x2="346.50" y1="564.8" y2="565.8" stroke="#d68d93" stroke-width="1"/>
<line x1="350.50" x2="350.50" y1="565.8" y2="566.8" stroke="#d68d93" stroke-width="1"/>
<line x1="354.50" x2="354.50" y1="565.8" y2="567.2" stroke="#d68d93" stroke-width="1"/>
<line x1="358.50" x2="358.50" y1="565.8" y2="568.3" stroke="#d68d93" stroke-width="1"/>
<line x1="362.50" x2="362.50" y1="565.8" y2="568.8" stroke="#d68d93" stroke-width="1"/>
<line x1="366.50" x2="366.50" y1="565.8" y2="569.9" stroke="#d68d93" stroke-width="1"/>
<line x1="369.50" x2="369.50" y1="565.8" y2="569.8" stroke="#d68d93" stroke-width="1"/>
<line x1="373.50" x2="373.50" y1="565.8" y2="568.4" stroke="#d68d93" stroke-width="1"/>
<line x1="377.50" x2="377.50" y1="565.8" y2="570.8" stroke="#d68d93" stroke-width="1"/>
<line x1="381.50" x2="381.50" y1="565.8" y2="572.2" stroke="#d68d93" stroke-width="1"/>
<line x1="385.50" x2="385.50" y1="565.8" y2="571.8" stroke="#d68d93" stroke-width="1"/>
<line x1="389.50" x2="389.50" y1="565.8" y2="571.1" stroke="#d68d93" stroke-width="1"/>
<line x1="393.50" x2="393.50" y1="565.8" y2="570.3" stroke="#d68d93" stroke-width="1"/>
<line x1="397.50" x2="397.50" y1="565.8" y2="570.0" stroke="#d68d93" stroke-width="1"/>
<line x1="401.50" x2="401.50" y1="565.8" y2="569.7" stroke="#d68d93" stroke-width="1"/>
<line x1="405.50" x2="405.50" y1="565.8" y2="567.0" stroke="#d68d93" stroke-width="1"/>
<line x1="409.50" x2="409.50" y1="564.4" y2="565.8" stroke="#d68d93" stroke-width="1"/>
<line x1="413.50" x2="413.50" y1="563.3" y2="565.8" stroke="#d68d93" stroke-width="1"/>
<line x1="417.50" x2="417.50" y1="563.1" y2="565.8" stroke="#d68d93" stroke-width="1"/>
<line x1="420.50" x2="420.50" y1="564.3" y2="565.8" stroke="#d68d93" stroke-width="1"/>
<line x1="424.50" x2="424.50" y1="563.7" y2="565.8" stroke="#d68d93" stroke-width="1"/>
<line x1="428.50" x2="428.50" y1="564.0" y2="565.8" stroke="#d68d93" stroke-width="1"/>
<line x1="432.50" x2="432.50" y1="564.8" y2="565.8" stroke="#d68d93" stroke-width="1"/>
<line x1="436.50" x2="436.50" y1="565.8" y2="566.8" stroke="#d68d93" stroke-width="1"/>
<line x1="440.50" x2="440.50" y1="565.8" y2="567.3" stroke="#d68d93" stroke-width="1"/>
<line x1="444.50" x2="444.50" y1="565.8" y2="567.2" stroke="#d68d93" stroke-width="1"/>
<line x1="448.50" x2="448.50" y1="565.8" y2="566.8" stroke="#d68d93" stroke-width="1"/>
<line x1="452.50" x2="452.50" y1="565.8" y2="566.8" stroke="#d68d93" stroke-width="1"/>
<line x1="456.50" x2="456.50" y1="562.8" y2="565.8" stroke="#d68d93" stroke-width="1"/>
<line x1="460.50" x2="460.50" y1="561.1" y2="565.8" stroke="#d68d93" stroke-width="1"/>
<line x1="464.50" x2="464.50" y1="559.9" y2="565.8" stroke="#d68d93" stroke-width="1"/>
<line x1="468.50" x2="468.50" y1="560.7" y2="565.8" stroke="#d68d93" stroke-width="1"/>
<line x1="471.50" x2="471.50" y1="561.1" y2="565.8" stroke="#d68d93" stroke-width="1"/>
<line x1="475.50" x2="475.50" y1="561.5" y2="565.8" stroke="#d68d93" stroke-width="1"/>
<line x1="479.50" x2="479.50" y1="561.8" y2="565.8" stroke="#d68d93" stroke-width="1"/>
<line x1="483.50" x2="483.50" y1="562.2" y2="565.8" stroke="#d68d93" stroke-width="1"/>
<line x1="487.50" x2="487.50" y1="563.9" y2="565.8" stroke="#d68d93" stroke-width="1"/>
<line x1="491.50" x2="491.50" y1="564.7" y2="565.8" stroke="#d68d93" stroke-width="1"/>
<line x1="495.50" x2="495.50" y1="564.8" y2="565.8" stroke="#d68d93" stroke-width="1"/>
<line x1="499.50" x2="499.50" y1="564.8" y2="565.8" stroke="#d68d93" stroke-width="1"/>
<line x1="503.50" x2="503.50" y1="565.8" y2="566.8" stroke="#d68d93" stroke-width="1"/>
<line x1="507.50" x2="507.50" y1="565.8" y2="567.5" stroke="#d68d93" stroke-width="1"/>
<line x1="511.50" x2="511.50" y1="565.8" y2="568.0" stroke="#d68d93" stroke-width="1"/>
<line x1="515.50" x2="515.50" y1="565.8" y2="568.7" stroke="#d68d93" stroke-width="1"/>
<line x1="519.50" x2="519.50" y1="565.8" y2="568.5" stroke="#d68d93" stroke-width="1"/>
<line x1="523.50" x2="523.50" y1="565.8" y2="568.2" stroke="#d68d93" stroke-width="1"/>
<line x1="526.50" x2="526.50" y1="565.8" y2="568.3" stroke="#d68d93" stroke-width="1"/>
<line x1="530.50" x2="530.50" y1="565.8" y2="568.4" stroke="#d68d93" stroke-width="1"/>
<line x1="534.50" x2="534.50" y1="565.8" y2="568.6" stroke="#d68d93" stroke-width="1"/>
<line x1="538.50" x2="538.50" y1="565.8" y2="569.3" stroke="#d68d93" stroke-width="1"/>
<line x1="542.50" x2="542.50" y1="565.8" y2="569.2" stroke="#d68d93" stroke-width="1"/>
<line x1="546.50" x2="546.50" y1="565.8" y2="568.4" stroke="#d68d93" stroke-width="1"/>
<line x1="550.50" x2="550.50" y1="564.8" y2="565.8" stroke="#d68d93" stroke-width="1"/>
<line x1="554.50" x2="554.50" y1="564.8" y2="565.8" stroke="#d68d93" stroke-width="1"/>
<line x1="558.50" x2="558.50" y1="564.5" y2="565.8" stroke="#d68d93" stroke-width="1"/>
<line x1="562.50" x2="562.50" y1="564.2" y2="565.8" stroke="#d68d93" stroke-width="1"/>
<line x1="566.50" x2="566.50" y1="564.8" y2="565.8" stroke="#d68d93" stroke-width="1"/>
<line x1="570.50" x2="570.50" y1="565.8" y2="566.8" stroke="#d68d93" stroke-width="1"/>
<line x1="574.50" x2="574.50" y1="565.8" y2="567.5" stroke="#d68d93" stroke-width="1"/>
<line x1="577.50" x2="577.50" y1="565.8" y2="568.5" stroke="#d68d93" stroke-width="1"/>
<line x1="581.50" x2="581.50" y1="565.8" y2="568.9" stroke="#d68d93" stroke-width="1"/>
<line x1="585.50" x2="585.50" y1="565.8" y2="570.1" stroke="#d68d93" stroke-width="1"/>
<line x1="589.50" x2="589.50" y1="565.8" y2="570.2" stroke="#d68d93" stroke-width="1"/>
<line x1="593.50" x2="593.50" y1="565.8" y2="570.4" stroke="#d68d93" stroke-width="1"/>
<line x1="597.50" x2="597.50" y1="565.8" y2="570.6" stroke="#d68d93" stroke-width="1"/>
<line x1="601.50" x2="601.50" y1="565.8" y2="568.0" stroke="#d68d93" stroke-width="1"/>
<line x1="605.50" x2="605.50" y1="565.8" y2="566.8" stroke="#d68d93" stroke-width="1"/>
<line x1="609.50" x2="609.50" y1="563.4" y2="565.8" stroke="#d68d93" stroke-width="1"/>
<line x1="613.50" x2="613.50" y1="563.1" y2="565.8" stroke="#d68d93" stroke-width="1"/>
<line x1="617.50" x2="617.50" y1="563.2" y2="565.8" stroke="#d68d93" stroke-width="1"/>
<line x1="621.50" x2="621.50" y1="563.6" y2="565.8" stroke="#d68d93" stroke-width="1"/>
<line x1="625.50" x2="625.50" y1="561.7" y2="565.8" stroke="#d68d93" stroke-width="1"/>
<line x1="629.50" x2="629.50" y1="559.4" y2="565.8" stroke="#d68d93" stroke-width="1"/>
<line x1="632.50" x2="632.50" y1="559.2" y2="565.8" stroke="#d68d93" stroke-width="1"/>
<line x1="636.50" x2="636.50" y1="559.2" y2="565.8" stroke="#d68d93" stroke-width="1"/>
<line x1="640.50" x2="640.50" y1="560.6" y2="565.8" stroke="#d68d93" stroke-width="1"/>
<line x1="644.50" x2="644.50" y1="561.7" y2="565.8" stroke="#d68d93" stroke-width="1"/>
<line x1="648.50" x2="648.50" y1="563.2" y2="565.8" stroke="#d68d93" stroke-width="1"/>
<line x1="652.50" x2="652.50" y1="564.8" y2="565.8" stroke="#d68d93" stroke-width="1"/>
<line x1="656.50" x2="656.50" y1="565.8" y2="566.8" stroke="#d68d93" stroke-width="1"/>
<line x1="660.50" x2="660.50" y1="564.8" y2="565.8" stroke="#d68d93" stroke-width="1"/>
<line x1="664.50" x2="664.50" y1="564.7" y2="565.8" stroke="#d68d93" stroke-width="1"/>
<line x1="668.50" x2="668.50" y1="563.5" y2="565.8" stroke="#d68d93" stroke-width="1"/>
<line x1="672.50" x2="672.50" y1="563.5" y2="565.8" stroke="#d68d93" stroke-width="1"/>
<line x1="676.50" x2="676.50" y1="563.5" y2="565.8" stroke="#d68d93" stroke-width="1"/>
<line x1="680.50" x2="680.50" y1="563.2" y2="565.8" stroke="#d68d93" stroke-width="1"/>
<line x1="683.50" x2="683.50" y1="561.3" y2="565.8" stroke="#d68d93" stroke-width="1"/>
<line x1="687.50" x2="687.50" y1="557.8" y2="565.8" stroke="#d68d93" stroke-width="1"/>
<line x1="691.50" x2="691.50" y1="556.2" y2="565.8" stroke="#d68d93" stroke-width="1"/>
<line x1="695.50" x2="695.50" y1="556.8" y2="565.8" stroke="#d68d93" stroke-width="1"/>
<line x1="699.50" x2="699.50" y1="557.6" y2="565.8" stroke="#d68d93" stroke-width="1"/>
<line x1="703.50" x2="703.50" y1="551.3" y2="565.8" stroke="#d68d93" stroke-width="1"/>
<line x1="707.50" x2="707.50" y1="550.4" y2="565.8" stroke="#d68d93" stroke-width="1"/>
<line x1="711.50" x2="711.50" y1="549.0" y2="565.8" stroke="#d68d93" stroke-width="1"/>
<line x1="715.50" x2="715.50" y1="550.6" y2="565.8" stroke="#d68d93" stroke-width="1"/>
<line x1="719.50" x2="719.50" y1="549.7" y2="565.8" stroke="#d68d93" stroke-width="1"/>
<line x1="723.50" x2="723.50" y1="545.4" y2="565.8" stroke="#d68d93" stroke-width="1"/>
<line x1="727.50" x2="727.50" y1="546.2" y2="565.8" stroke="#d68d93" stroke-width="1"/>
<line x1="731.50" x2="731.50" y1="545.4" y2="565.8" stroke="#d68d93" stroke-width="1"/>
<line x1="734.50" x2="734.50" y1="549.9" y2="565.8" stroke="#d68d93" stroke-width="1"/>
<line x1="738.50" x2="738.50" y1="554.1" y2="565.8" stroke="#d68d93" stroke-width="1"/>
<line x1="742.50" x2="742.50" y1="563.4" y2="565.8" stroke="#d68d93" stroke-width="1"/>
<line x1="746.50" x2="746.50" y1="565.8" y2="569.7" stroke="#d68d93" stroke-width="1"/>
<line x1="750.50" x2="750.50" y1="565.8" y2="576.5" stroke="#d68d93" stroke-width="1"/>
<line x1="754.50" x2="754.50" y1="565.8" y2="577.8" stroke="#d68d93" stroke-width="1"/>
<line x1="758.50" x2="758.50" y1="565.8" y2="578.1" stroke="#d68d93" stroke-width="1"/>
<line x1="762.50" x2="762.50" y1="565.8" y2="579.0" stroke="#d68d93" stroke-width="1"/>
<line x1="766.50" x2="766.50" y1="565.8" y2="578.1" stroke="#d68d93" stroke-width="1"/>
<line x1="770.50" x2="770.50" y1="565.8" y2="579.2" stroke="#d68d93" stroke-width="1"/>
<line x1="774.50" x2="774.50" y1="565.8" y2="582.3" stroke="#d68d93" stroke-width="1"/>
<line x1="778.50" x2="778.50" y1="565.8" y2="583.2" stroke="#d68d93" stroke-width="1"/>
<line x1="782.50" x2="782.50" y1="565.8" y2="584.4" stroke="#d68d93" stroke-width="1"/>
<line x1="785.50" x2="785.50" y1="565.8" y2="586.2" stroke="#d68d93" stroke-width="1"/>
<line x1="789.50" x2="789.50" y1="565.8" y2="582.4" stroke="#d68d93" stroke-width="1"/>
<line x1="793.50" x2="793.50" y1="565.8" y2="580.2" stroke="#d68d93" stroke-width="1"/>
<line x1="797.50" x2="797.50" y1="565.8" y2="581.6" stroke="#d68d93" stroke-width="1"/>
<line x1="801.50" x2="801.50" y1="565.8" y2="581.6" stroke="#d68d93" stroke-width="1"/>
<line x1="805.50" x2="805.50" y1="565.8" y2="582.7" stroke="#d68d93" stroke-width="1"/>
<line x1="809.50" x2="809.50" y1="565.8" y2="579.9" stroke="#d68d93" stroke-width="1"/>
<line x1="813.50" x2="813.50" y1="565.8" y2="577.3" stroke="#d68d93" stroke-width="1"/>
<line x1="817.50" x2="817.50" y1="565.8" y2="573.9" stroke="#d68d93" stroke-width="1"/>
<line x1="821.50" x2="821.50" y1="565.8" y2="572.0" stroke="#d68d93" stroke-width="1"/>
<line x1="825.50" x2="825.50" y1="565.8" y2="569.0" stroke="#d68d93" stroke-width="1"/>
<line x1="829.50" x2="829.50" y1="565.8" y2="570.8" stroke="#d68d93" stroke-width="1"/>
<line x1="833.50" x2="833.50" y1="565.8" y2="576.3" stroke="#d68d93" stroke-width="1"/>
<line x1="837.50" x2="837.50" y1="565.8" y2="583.2" stroke="#d68d93" stroke-width="1"/>
<line x1="840.50" x2="840.50" y1="565.8" y2="588.0" stroke="#d68d93" stroke-width="1"/>
<line x1="844.50" x2="844.50" y1="565.8" y2="589.4" stroke="#d68d93" stroke-width="1"/>
<line x1="848.50" x2="848.50" y1="565.8" y2="587.9" stroke="#d68d93" stroke-width="1"/>
<line x1="852.50" x2="852.50" y1="565.8" y2="584.7" stroke="#d68d93" stroke-width="1"/>
<line x1="856.50" x2="856.50" y1="565.8" y2="580.9" stroke="#d68d93" stroke-width="1"/>
<line x1="860.50" x2="860.50" y1="565.8" y2="577.2" stroke="#d68d93" stroke-width="1"/>
<line x1="864.50" x2="864.50" y1="565.8" y2="573.7" stroke="#d68d93" stroke-width="1"/>
<line x1="868.50" x2="868.50" y1="565.8" y2="569.1" stroke="#d68d93" stroke-width="1"/>
<line x1="872.50" x2="872.50" y1="565.8" y2="567.8" stroke="#d68d93" stroke-width="1"/>
<line x1="876.50" x2="876.50" y1="564.8" y2="565.8" stroke="#d68d93" stroke-width="1"/>
<line x1="880.50" x2="880.50" y1="564.5" y2="565.8" stroke="#d68d93" stroke-width="1"/>
<line x1="884.50" x2="884.50" y1="564.8" y2="565.8" stroke="#d68d93" stroke-width="1"/>
<line x1="888.50" x2="888.50" y1="565.8" y2="566.8" stroke="#d68d93" stroke-width="1"/>
<line x1="891.50" x2="891.50" y1="564.8" y2="565.8" stroke="#d68d93" stroke-width="1"/>
<line x1="895.50" x2="895.50" y1="564.8" y2="565.8" stroke="#d68d93" stroke-width="1"/>
<line x1="899.50" x2="899.50" y1="565.8" y2="566.8" stroke="#d68d93" stroke-width="1"/>
<line x1="903.50" x2="903.50" y1="565.8" y2="567.8" stroke="#d68d93" stroke-width="1"/>
<line x1="907.50" x2="907.50" y1="565.8" y2="568.6" stroke="#d68d93" stroke-width="1"/>
<line x1="911.50" x2="911.50" y1="565.8" y2="568.7" stroke="#d68d93" stroke-width="1"/>
<line x1="915.50" x2="915.50" y1="565.8" y2="567.4" stroke="#d68d93" stroke-width="1"/>
<line x1="919.50" x2="919.50" y1="564.8" y2="565.8" stroke="#d68d93" stroke-width="1"/>
<line x1="923.50" x2="923.50" y1="564.4" y2="565.8" stroke="#d68d93" stroke-width="1"/>
<line x1="927.50" x2="927.50" y1="563.1" y2="565.8" stroke="#d68d93" stroke-width="1"/>
<line x1="931.50" x2="931.50" y1="560.8" y2="565.8" stroke="#d68d93" stroke-width="1"/>
<line x1="935.50" x2="935.50" y1="559.3" y2="565.8" stroke="#d68d93" stroke-width="1"/>
<line x1="939.50" x2="939.50" y1="555.8" y2="565.8" stroke="#d68d93" stroke-width="1"/>
<line x1="942.50" x2="942.50" y1="552.1" y2="565.8" stroke="#d68d93" stroke-width="1"/>
<polyline points="12.8,500.0 16.7,499.8 20.6,499.9 24.5,500.5 28.5,501.3 32.4,502.1 36.3,503.0 40.2,504.2 44.2,506.2 48.1,509.8 52.0,514.0 55.9,518.3 59.9,522.2 63.8,526.5 67.7,530.7 71.7,535.0 75.6,539.0 79.5,542.7 83.4,546.7 87.4,551.6 91.3,556.5 95.2,561.3 99.1,566.2 103.0,570.9 107.0,575.0 110.9,578.6 114.8,581.8 118.8,584.1 122.7,586.0 126.6,587.1 130.5,588.8 134.4,591.4 138.4,594.2 142.3,597.3 146.2,601.5 150.2,606.8 154.1,612.4 158.0,617.7 161.9,622.7 165.8,627.0 169.8,630.3 173.7,632.0 177.6,632.2 181.6,631.0 185.5,629.3 189.4,627.3 193.3,624.8 197.2,622.2 201.2,619.5 205.1,616.8 209.0,614.3 212.9,612.0 216.9,609.8 220.8,607.6 224.7,605.4 228.7,603.1 232.6,600.6 236.5,598.1 240.4,595.5 244.3,592.5 248.3,589.2 252.2,585.9 256.1,582.3 260.0,579.4 264.0,576.8 267.9,574.5 271.8,572.6 275.7,571.1 279.7,569.9 283.6,568.4 287.5,566.9 291.4,564.9 295.4,562.3 299.3,559.4 303.2,557.1 307.1,554.8 311.1,552.6 315.0,550.8 318.9,549.2 322.8,548.0 326.8,547.4 330.7,547.1 334.6,546.6 338.5,546.2 342.5,545.9 346.4,545.8 350.3,545.8 354.2,546.2 358.2,546.8 362.1,547.6 366.0,548.6 369.9,549.6 373.9,550.2 377.8,551.5 381.7,553.1 385.6,554.6 389.6,555.9 393.5,557.0 397.4,558.1 401.3,559.1 405.3,559.4 409.2,559.0 413.1,558.4 417.0,557.7 421.0,557.4 424.9,556.8 428.8,556.4 432.7,556.1 436.7,556.2 440.6,556.5 444.5,556.9 448.4,557.1 452.4,557.2 456.3,556.4 460.2,555.3 464.1,553.8 468.1,552.5 472.0,551.4 475.9,550.3 479.8,549.3 483.8,548.4 487.7,547.9 491.6,547.7 495.5,547.6 499.5,547.5 503.4,547.7 507.3,548.1 511.2,548.7 515.2,549.4 519.1,550.1 523.0,550.7 526.9,551.3 530.9,551.9 534.8,552.6 538.7,553.5 542.6,554.4 546.6,555.0 550.5,555.0 554.4,555.0 558.3,554.6 562.3,554.2 566.2,554.1 570.1,554.2 574.0,554.7 578.0,555.3 581.9,556.1 585.8,557.2 589.8,558.3 593.7,559.4 597.6,560.6 601.5,561.2 605.4,561.2 609.4,560.6 613.3,559.9 617.2,559.3 621.1,558.7 625.1,557.7 629.0,556.1 632.9,554.5 636.8,552.8 640.8,551.5 644.7,550.5 648.6,549.8 652.5,549.7 656.5,549.9 660.4,549.8 664.3,549.6 668.2,549.0 672.2,548.4 676.1,547.8 680.0,547.2 683.9,546.1 687.9,544.0 691.8,541.6 695.7,539.4 699.6,537.3 703.6,533.7 707.5,529.9 711.4,525.7 715.3,521.9 719.3,517.9 723.2,512.8 727.1,507.9 731.0,502.8 735.0,498.8 738.9,495.9 742.8,495.3 746.8,496.2 750.7,498.9 754.6,501.9 758.5,505.0 762.4,508.3 766.4,511.4 770.3,514.7 774.2,518.8 778.1,523.2 782.1,527.8 786.0,532.9 789.9,537.1 793.8,540.7 797.8,544.6 801.7,548.6 805.6,552.8 809.5,556.3 813.5,559.2 817.4,561.2 821.3,562.8 825.2,563.6 829.2,564.8 833.1,567.5 837.0,571.8 840.9,577.3 844.9,583.3 848.8,588.8 852.7,593.5 856.6,597.3 860.6,600.1 864.5,602.1 868.4,602.9 872.3,603.4 876.3,603.2 880.2,602.9 884.1,602.8 888.0,602.8 892.0,602.8 895.9,602.6 899.8,602.6 903.7,603.1 907.7,603.8 911.6,604.5 915.5,604.9 919.4,604.9 923.4,604.6 927.3,603.9 931.2,602.6 935.1,601.0 939.1,598.5 943.0,595.1" fill="none" stroke="#e59aa0" stroke-width="1" stroke-opacity="0.9"/>
<polyline points="12.8,497.3 16.7,498.9 20.6,500.6 24.5,502.9 28.5,504.4 32.4,505.1 36.3,506.9 40.2,508.9 44.2,514.0 48.1,524.3 52.0,530.7 55.9,535.7 59.9,537.6 63.8,543.6 67.7,547.6 71.7,552.4 75.6,554.6 79.5,557.5 83.4,562.7 87.4,571.3 91.3,576.1 95.2,580.6 99.1,585.7 103.0,589.8 107.0,591.3 110.9,592.9 114.8,594.5 118.8,593.6 122.7,593.2 126.6,591.8 130.5,595.5 134.4,601.6 138.4,605.8 142.3,609.3 146.2,618.7 150.2,628.1 154.1,634.6 158.0,639.0 161.9,642.7 165.8,643.9 169.8,643.5 173.7,638.8 177.6,632.9 181.6,626.4 185.5,622.6 189.4,619.0 193.3,614.9 197.2,611.8 201.2,608.8 205.1,605.9 209.0,604.4 212.9,603.0 216.9,600.9 220.8,598.7 224.7,596.8 228.7,593.5 232.6,590.9 236.5,588.0 240.4,585.3 244.3,580.4 248.3,575.9 252.2,572.6 256.1,567.8 260.0,567.8 264.0,566.7 267.9,565.1 271.8,565.3 275.7,564.8 279.7,565.1 283.6,562.4 287.5,561.0 291.4,557.0 295.4,551.8 299.3,548.1 303.2,547.7 307.1,545.8 311.1,543.8 315.0,543.3 318.9,542.9 322.8,543.3 326.8,545.0 330.7,545.7 334.6,544.5 338.5,544.6 342.5,545.0 346.4,545.1 350.3,546.0 354.2,547.6 358.2,549.3 362.1,550.6 366.0,552.7 369.9,553.5 373.9,552.9 377.8,556.5 381.7,559.4 385.6,560.6 389.6,561.2 393.5,561.6 397.4,562.3 401.3,563.0 405.3,560.5 409.2,557.6 413.1,556.0 417.0,555.0 421.0,555.9 424.9,554.7 428.8,554.5 432.7,555.1 436.7,556.4 440.6,558.0 444.5,558.3 448.4,557.8 452.4,557.6 456.3,553.5 460.2,550.5 464.1,547.9 468.1,547.5 472.0,546.6 475.9,546.0 479.8,545.3 483.8,544.8 487.7,546.1 491.6,546.6 495.5,547.6 499.5,547.1 503.4,548.3 507.3,549.8 511.2,550.8 515.2,552.3 519.1,552.8 523.0,553.0 526.9,553.8 530.9,554.6 534.8,555.4 538.7,557.0 542.6,557.7 546.6,557.6 550.5,554.9 554.4,554.8 558.3,553.3 562.3,552.6 566.2,553.6 570.1,554.8 574.0,556.4 578.0,558.0 581.9,559.2 585.8,561.5 589.8,562.6 593.7,564.1 597.6,565.4 601.5,563.3 605.4,561.4 609.4,558.2 613.3,557.2 617.2,556.7 621.1,556.5 625.1,553.6 629.0,549.7 632.9,547.9 636.8,546.1 640.8,546.3 644.7,546.4 648.6,547.3 652.5,549.4 656.5,550.7 660.4,549.4 664.3,548.5 668.2,546.7 672.2,546.1 676.1,545.6 680.0,544.6 683.9,541.5 687.9,536.0 691.8,532.0 695.7,530.4 699.6,529.2 703.6,519.3 707.5,514.5 711.4,508.9 715.3,506.7 719.3,501.7 723.2,492.4 727.1,488.3 731.0,482.3 735.0,482.9 738.9,484.2 742.8,492.8 746.8,500.2 750.7,509.7 754.6,513.9 758.5,517.3 762.4,521.5 766.4,523.7 770.3,528.1 774.2,535.3 778.1,540.6 782.1,546.4 786.0,553.3 789.9,553.7 793.8,555.0 797.8,560.4 801.7,564.4 805.6,569.7 809.5,570.5 813.5,570.7 817.4,569.4 821.3,569.0 825.2,566.8 829.2,569.8 833.1,577.9 837.0,589.2 840.9,599.5 844.9,606.9 848.8,610.8 852.7,612.4 856.6,612.4 860.6,611.6 864.5,610.1 868.4,606.2 872.3,605.4 876.3,602.5 880.2,601.6 884.1,602.5 888.0,602.9 892.0,602.6 895.9,601.8 899.8,602.7 903.7,605.2 907.7,606.6 911.6,607.4 915.5,606.5 919.4,604.8 923.4,603.2 927.3,601.1 931.2,597.7 935.1,594.5 939.1,588.5 943.0,581.4" fill="none" stroke="#6c72c0" stroke-width="1" stroke-opacity="0.9"/>
<line x1="1038" x2="1038" y1="1.5" y2="654" stroke="#bdbdbd" stroke-width="1.3"/>
<line x1="10" x2="1078" y1="363.3" y2="363.3" stroke="#bdbdbd" stroke-width="1.3"/>
<line x1="10" x2="1078" y1="472.4" y2="472.4" stroke="#bdbdbd" stroke-width="1.3"/>
<line x1="10" x2="1038" y1="653.6" y2="653.6" stroke="#bdbdbd" stroke-width="1.3"/>
<line x1="1038" x2="1041" y1="333.2" y2="333.2" stroke="#bdbdbd"/>
<text x="1043.5" y="336.3" font-size="8.6" fill="#8a8a8a">20.00</text>
<line x1="1038" x2="1041" y1="295.3" y2="295.3" stroke="#bdbdbd"/>
<text x="1043.5" y="298.4" font-size="8.6" fill="#8a8a8a">30.00</text>
<line x1="1038" x2="1041" y1="257.4" y2="257.4" stroke="#bdbdbd"/>
<text x="1043.5" y="260.6" font-size="8.6" fill="#8a8a8a">40.00</text>
<line x1="1038" x2="1041" y1="219.6" y2="219.6" stroke="#bdbdbd"/>
<text x="1043.5" y="222.7" font-size="8.6" fill="#8a8a8a">50.00</text>
<line x1="1038" x2="1041" y1="181.7" y2="181.7" stroke="#bdbdbd"/>
<text x="1043.5" y="184.8" font-size="8.6" fill="#8a8a8a">60.00</text>
<line x1="1038" x2="1041" y1="143.8" y2="143.8" stroke="#bdbdbd"/>
<text x="1043.5" y="146.9" font-size="8.6" fill="#8a8a8a">70.00</text>
<line x1="1038" x2="1041" y1="106.0" y2="106.0" stroke="#bdbdbd"/>
<text x="1043.5" y="109.0" font-size="8.6" fill="#8a8a8a">80.00</text>
<line x1="1038" x2="1041" y1="68.1" y2="68.1" stroke="#bdbdbd"/>
<text x="1043.5" y="71.2" font-size="8.6" fill="#8a8a8a">90.00</text>
<line x1="1038" x2="1041" y1="30.2" y2="30.2" stroke="#bdbdbd"/>
<text x="1043.5" y="33.3" font-size="8.6" fill="#8a8a8a">100.00</text>
<line x1="1038" x2="1041" y1="368.0" y2="368.0" stroke="#bdbdbd"/>
<text x="1043.5" y="371.1" font-size="8.6" fill="#8a8a8a">1M</text>
<line x1="1038" x2="1041" y1="393.4" y2="393.4" stroke="#bdbdbd"/>
<text x="1043.5" y="396.5" font-size="8.6" fill="#8a8a8a">750K</text>
<line x1="1038" x2="1041" y1="417.9" y2="417.9" stroke="#bdbdbd"/>
<text x="1043.5" y="421.0" font-size="8.6" fill="#8a8a8a">500K</text>
<line x1="1038" x2="1041" y1="441.8" y2="441.8" stroke="#bdbdbd"/>
<text x="1043.5" y="444.9" font-size="8.6" fill="#8a8a8a">250K</text>
<line x1="1038" x2="1041" y1="466.3" y2="466.3" stroke="#bdbdbd"/>
<text x="1043.5" y="469.4" font-size="8.6" fill="#8a8a8a">0</text>
<line x1="1038" x2="1041" y1="477.4" y2="477.4" stroke="#bdbdbd"/>
<text x="1043.3" y="480.5" font-size="8.6" fill="#8a8a8a">10.0000</text>
<line x1="1038" x2="1041" y1="499.5" y2="499.5" stroke="#bdbdbd"/>
<text x="1043.3" y="502.6" font-size="8.6" fill="#8a8a8a">7.5000</text>
<line x1="1038" x2="1041" y1="521.6" y2="521.6" stroke="#bdbdbd"/>
<text x="1043.3" y="524.7" font-size="8.6" fill="#8a8a8a">5.0000</text>
<line x1="1038" x2="1041" y1="543.7" y2="543.7" stroke="#bdbdbd"/>
<text x="1043.3" y="546.8" font-size="8.6" fill="#8a8a8a">2.5000</text>
<line x1="1038" x2="1041" y1="565.8" y2="565.8" stroke="#bdbdbd"/>
<text x="1043.3" y="568.9" font-size="8.6" fill="#8a8a8a">0.0000</text>
<line x1="1038" x2="1041" y1="587.9" y2="587.9" stroke="#bdbdbd"/>
<text x="1043.3" y="591.0" font-size="8.6" fill="#8a8a8a">-2.5000</text>
<line x1="1038" x2="1041" y1="610.0" y2="610.0" stroke="#bdbdbd"/>
<text x="1043.3" y="613.1" font-size="8.6" fill="#8a8a8a">-5.0000</text>
<line x1="1038" x2="1041" y1="632.1" y2="632.1" stroke="#bdbdbd"/>
<text x="1043.3" y="635.2" font-size="8.6" fill="#8a8a8a">-7.5000</text>
<rect x="1038" y="156.3" width="29" height="12.2" fill="#22a57c"/>
<text x="1041" y="165.6" font-size="8.6" fill="#fff">64.88</text>
<line x1="103.9" x2="103.9" y1="653.6" y2="656" stroke="#bdbdbd"/>
<text x="103.7" y="667.6" font-size="9.2" fill="#8a8a8a" text-anchor="end" font-weight="bold">3</text>
<path transform="translate(104.5,660.6) scale(0.720)" d="M2.2,0.8V7Q2,9 0.6,10M2.2,0.8H8.6V9.8L7.2,9.4M2.2,3.6H8.6M2.2,6.4H8.6" fill="none" stroke="#8a8a8a" stroke-width="1.74"/>
<line x1="162.8" x2="162.8" y1="653.6" y2="656" stroke="#bdbdbd"/>
<text x="162.8" y="667.6" font-size="9.2" fill="#8a8a8a" text-anchor="middle">16</text>
<line x1="224.8" x2="224.8" y1="653.6" y2="656" stroke="#bdbdbd"/>
<text x="224.60000000000002" y="667.6" font-size="9.2" fill="#8a8a8a" text-anchor="end" font-weight="bold">4</text>
<path transform="translate(225.4,660.6) scale(0.720)" d="M2.2,0.8V7Q2,9 0.6,10M2.2,0.8H8.6V9.8L7.2,9.4M2.2,3.6H8.6M2.2,6.4H8.6" fill="none" stroke="#8a8a8a" stroke-width="1.74"/>
<line x1="283.6" x2="283.6" y1="653.6" y2="656" stroke="#bdbdbd"/>
<text x="283.6" y="667.6" font-size="9.2" fill="#8a8a8a" text-anchor="middle">16</text>
<line x1="342" x2="342" y1="653.6" y2="656" stroke="#bdbdbd"/>
<text x="341.8" y="667.6" font-size="9.2" fill="#8a8a8a" text-anchor="end" font-weight="bold">5</text>
<path transform="translate(342.6,660.6) scale(0.720)" d="M2.2,0.8V7Q2,9 0.6,10M2.2,0.8H8.6V9.8L7.2,9.4M2.2,3.6H8.6M2.2,6.4H8.6" fill="none" stroke="#8a8a8a" stroke-width="1.74"/>
<line x1="401" x2="401" y1="653.6" y2="656" stroke="#bdbdbd"/>
<text x="401" y="667.6" font-size="9.2" fill="#8a8a8a" text-anchor="middle">16</text>
<line x1="463" x2="463" y1="653.6" y2="656" stroke="#bdbdbd"/>
<text x="462.8" y="667.6" font-size="9.2" fill="#8a8a8a" text-anchor="end" font-weight="bold">6</text>
<path transform="translate(463.6,660.6) scale(0.720)" d="M2.2,0.8V7Q2,9 0.6,10M2.2,0.8H8.6V9.8L7.2,9.4M2.2,3.6H8.6M2.2,6.4H8.6" fill="none" stroke="#8a8a8a" stroke-width="1.74"/>
<line x1="522" x2="522" y1="653.6" y2="656" stroke="#bdbdbd"/>
<text x="522" y="667.6" font-size="9.2" fill="#8a8a8a" text-anchor="middle">16</text>
<line x1="582" x2="582" y1="653.6" y2="656" stroke="#bdbdbd"/>
<text x="581.8" y="667.6" font-size="9.2" fill="#8a8a8a" text-anchor="end" font-weight="bold">7</text>
<path transform="translate(582.6,660.6) scale(0.720)" d="M2.2,0.8V7Q2,9 0.6,10M2.2,0.8H8.6V9.8L7.2,9.4M2.2,3.6H8.6M2.2,6.4H8.6" fill="none" stroke="#8a8a8a" stroke-width="1.74"/>
<line x1="641" x2="641" y1="653.6" y2="656" stroke="#bdbdbd"/>
<text x="641" y="667.6" font-size="9.2" fill="#8a8a8a" text-anchor="middle">16</text>
<line x1="703" x2="703" y1="653.6" y2="656" stroke="#bdbdbd"/>
<text x="702.8" y="667.6" font-size="9.2" fill="#8a8a8a" text-anchor="end" font-weight="bold">8</text>
<path transform="translate(703.6,660.6) scale(0.720)" d="M2.2,0.8V7Q2,9 0.6,10M2.2,0.8H8.6V9.8L7.2,9.4M2.2,3.6H8.6M2.2,6.4H8.6" fill="none" stroke="#8a8a8a" stroke-width="1.74"/>
<line x1="762" x2="762" y1="653.6" y2="656" stroke="#bdbdbd"/>
<text x="762" y="667.6" font-size="9.2" fill="#8a8a8a" text-anchor="middle">16</text>
<line x1="824" x2="824" y1="653.6" y2="656" stroke="#bdbdbd"/>
<text x="823.8" y="667.6" font-size="9.2" fill="#8a8a8a" text-anchor="end" font-weight="bold">9</text>
<path transform="translate(824.6,660.6) scale(0.720)" d="M2.2,0.8V7Q2,9 0.6,10M2.2,0.8H8.6V9.8L7.2,9.4M2.2,3.6H8.6M2.2,6.4H8.6" fill="none" stroke="#8a8a8a" stroke-width="1.74"/>
<line x1="883" x2="883" y1="653.6" y2="656" stroke="#bdbdbd"/>
<text x="883" y="667.6" font-size="9.2" fill="#8a8a8a" text-anchor="middle">16</text>
<line x1="943" x2="943" y1="653.6" y2="656" stroke="#bdbdbd"/>
<text x="942.8" y="667.6" font-size="9.2" fill="#8a8a8a" text-anchor="end" font-weight="bold">10</text>
<path transform="translate(943.6,660.6) scale(0.720)" d="M2.2,0.8V7Q2,9 0.6,10M2.2,0.8H8.6V9.8L7.2,9.4M2.2,3.6H8.6M2.2,6.4H8.6" fill="none" stroke="#8a8a8a" stroke-width="1.74"/>
<line x1="1003" x2="1003" y1="653.6" y2="656" stroke="#bdbdbd"/>
<text x="1003" y="667.6" font-size="9.2" fill="#8a8a8a" text-anchor="middle">16</text>
<rect x="14.3" y="11.3" width="9.2" height="9.2" rx="1" fill="none" stroke="#8a8a8a" stroke-width="1"/>
<line x1="16" x2="21.8" y1="15.9" y2="15.9" stroke="#8a8a8a" stroke-width="1"/>
<text x="29.4" y="20.7" font-size="12.4" fill="#666666" textLength="124.6" lengthAdjust="spacing" stroke="#666666" stroke-width="0.15">ZEC/USDT, 1D, Huobi</text>
<polygon points="159.3,14.1 163.9,14.1 161.6,17.1" fill="#c4c4c4"/>
<path transform="translate(176.4,11.2) scale(0.920)" d="M1,1.2H9M0.3,5H9.7M3.6,1.2V5Q3.4,8.5 1,10M6.8,1.2V10" fill="none" stroke="#7c7c7c" stroke-width="1.09"/>
<text x="186.5" y="19.8" font-size="10.2" fill="#7c7c7c" textLength="5.6" lengthAdjust="spacingAndGlyphs">=</text>
<text x="194.4" y="19.8" font-size="10.2" fill="#35ad93" textLength="27.5" lengthAdjust="spacing">62.05</text>
<path transform="translate(230.7,11.2) scale(0.970)" d="M5,0V1.3M0.5,1.6H9.5M3,3H7V5H3ZM1.2,10V6.5H8.8V10M3.5,7.8H6.5V9.3H3.5Z" fill="none" stroke="#7c7c7c" stroke-width="1.03"/>
<text x="241.0" y="19.8" font-size="10.2" fill="#7c7c7c" textLength="5.6" lengthAdjust="spacingAndGlyphs">=</text>
<text x="248.9" y="19.8" font-size="10.2" fill="#35ad93" textLength="27.1" lengthAdjust="spacing">66.50</text>
<path transform="translate(285.2,11.2) scale(0.960)" d="M2.6,0L0.3,4.5M1.6,3V10M4.2,1.6L9.2,0.6M4.6,1.6V9M4.6,5H10M6.6,1.4Q7.5,7 10,10M4.2,9.3L7,8.2" fill="none" stroke="#7c7c7c" stroke-width="1.04"/>
<text x="295.5" y="19.8" font-size="10.2" fill="#7c7c7c" textLength="5.6" lengthAdjust="spacingAndGlyphs">=</text>
<text x="303.4" y="19.8" font-size="10.2" fill="#35ad93" textLength="27.0" lengthAdjust="spacing">60.85</text>
<path transform="translate(339.6,11.2) scale(1.020)" d="M1,2V8L3.8,6.5M3.8,0V10M6,0L5,4M5.6,2H10M9,2Q8,7 4.8,10M6,4.5Q7.5,8 10,10" fill="none" stroke="#7c7c7c" stroke-width="0.98"/>
<text x="350.5" y="19.8" font-size="10.2" fill="#7c7c7c" textLength="5.6" lengthAdjust="spacingAndGlyphs">=</text>
<text x="358.4" y="19.8" font-size="10.2" fill="#35ad93" textLength="26.8" lengthAdjust="spacing">64.88</text>
<text x="395.7" y="19.8" font-size="10.2" fill="#35ad93" textLength="73.2" lengthAdjust="spacing">+2.83 (+4.56%)</text>
<text x="13.9" y="35.4" font-size="9.3" fill="#7c7c7c" textLength="64.8" lengthAdjust="spacing">MA (5, close, 0)</text>
<polygon points="82.3,29.5 87.3,29.5 84.8,32.5" fill="#d6d6d6"/>
<rect x="96.2" y="25.8" width="10.0" height="10.2" fill="#dedede"/><rect x="98.2" y="27.8" width="6.0" height="6.2" fill="#f4f4f4"/><rect x="100.2" y="29.9" width="2" height="2" fill="#c8c8c8"/><rect x="109.1" y="25.8" width="10.7" height="10.2" fill="#dedede"/><path d="M111.1,27.8L117.8,34.0M117.8,27.8L111.1,34.0" stroke="#f6f6f6" stroke-width="1.6"/>
<text x="126.3" y="35.4" font-size="9.2" fill="#7a68aa" textLength="22.4" lengthAdjust="spacingAndGlyphs">59.34</text>
<text x="13.9" y="50.5" font-size="9.3" fill="#7c7c7c" textLength="69.5" lengthAdjust="spacingAndGlyphs">MA (10, close, 0)</text>
<polygon points="87.1,44.6 92.1,44.6 89.6,47.6" fill="#d6d6d6"/>
<rect x="100.4" y="40.9" width="10.4" height="10.2" fill="#dedede"/><rect x="102.4" y="42.9" width="6.4" height="6.2" fill="#f4f4f4"/><rect x="104.6" y="45.0" width="2" height="2" fill="#c8c8c8"/><rect x="113.6" y="40.9" width="10.6" height="10.2" fill="#dedede"/><path d="M115.6,42.9L122.2,49.1M122.2,42.9L115.6,49.1" stroke="#f6f6f6" stroke-width="1.6"/>
<text x="130.6" y="50.5" font-size="9.2" fill="#7d9fcf" textLength="22.9" lengthAdjust="spacingAndGlyphs">56.69</text>
<text x="13.9" y="65.8" font-size="9.3" fill="#7c7c7c" textLength="69.5" lengthAdjust="spacingAndGlyphs">MA (30, close, 0)</text>
<polygon points="87.1,59.9 92.1,59.9 89.6,62.9" fill="#d6d6d6"/>
<rect x="100.4" y="56.2" width="10.4" height="10.2" fill="#dedede"/><rect x="102.4" y="58.2" width="6.4" height="6.2" fill="#f4f4f4"/><rect x="104.6" y="60.3" width="2" height="2" fill="#c8c8c8"/><rect x="113.6" y="56.2" width="10.6" height="10.2" fill="#dedede"/><path d="M115.6,58.2L122.2,64.4M122.2,58.2L115.6,64.4" stroke="#f6f6f6" stroke-width="1.6"/>
<text x="130.6" y="65.8" font-size="9.2" fill="#52ad62" textLength="22.9" lengthAdjust="spacingAndGlyphs">59.25</text>
<text x="13.9" y="81.1" font-size="9.3" fill="#7c7c7c" textLength="69.5" lengthAdjust="spacingAndGlyphs">MA (60, close, 0)</text>
<polygon points="87.1,75.2 92.1,75.2 89.6,78.2" fill="#d6d6d6"/>
<rect x="100.4" y="71.5" width="10.4" height="10.2" fill="#dedede"/><rect x="102.4" y="73.5" width="6.4" height="6.2" fill="#f4f4f4"/><rect x="104.6" y="75.6" width="2" height="2" fill="#c8c8c8"/><rect x="113.6" y="71.5" width="10.6" height="10.2" fill="#dedede"/><path d="M115.6,73.5L122.2,79.7M122.2,73.5L115.6,79.7" stroke="#f6f6f6" stroke-width="1.6"/>
<text x="131.4" y="81.1" font-size="9.2" fill="#84508f" textLength="21.3" lengthAdjust="spacingAndGlyphs">71.11</text>
<text x="13.9" y="96.6" font-size="9.3" fill="#7c7c7c" textLength="74.2" lengthAdjust="spacingAndGlyphs">MA (120, close, 0)</text>
<polygon points="92.0,90.7 97.0,90.7 94.5,93.7" fill="#d6d6d6"/>
<rect x="105.8" y="87.0" width="10.5" height="10.2" fill="#dedede"/><rect x="107.8" y="89.0" width="6.5" height="6.2" fill="#f4f4f4"/><rect x="110.0" y="91.1" width="2" height="2" fill="#c8c8c8"/><rect x="118.8" y="87.0" width="10.9" height="10.2" fill="#dedede"/><path d="M120.8,89.0L127.7,95.2M127.7,89.0L120.8,95.2" stroke="#f6f6f6" stroke-width="1.6"/>
<text x="136.0" y="96.6" font-size="9.2" fill="#d5333b" textLength="21.4" lengthAdjust="spacingAndGlyphs">64.31</text>
<text x="13.8" y="378.9" font-size="9.4" fill="#7c7c7c" textLength="50.6" lengthAdjust="spacingAndGlyphs">Volume (20)</text>
<polygon points="68.5,373.0 72.9,373.0 70.7,376.0" fill="#d6d6d6"/>
<rect x="81.0" y="369.3" width="10.0" height="10.2" fill="#dedede"/><rect x="83.0" y="371.3" width="6.0" height="6.2" fill="#f4f4f4"/><rect x="85.0" y="373.4" width="2" height="2" fill="#c8c8c8"/><rect x="94.3" y="369.3" width="10.4" height="10.2" fill="#dedede"/><path d="M96.3,371.3L102.7,377.5M102.7,371.3L96.3,377.5" stroke="#f6f6f6" stroke-width="1.6"/>
<text x="111.6" y="378.9" font-size="9.4" fill="#35ad93" textLength="38.9" lengthAdjust="spacingAndGlyphs">127.028K</text>
<text x="13.8" y="487.6" font-size="9.4" fill="#7c7c7c" textLength="96.7" lengthAdjust="spacingAndGlyphs">MACD (12, 26, close, 9)</text>
<polygon points="113.7,481.7 118.7,481.7 116.2,484.7" fill="#d6d6d6"/>
<rect x="127.5" y="478.4" width="10.5" height="10.2" fill="#dedede"/><rect x="129.5" y="480.4" width="6.5" height="6.2" fill="#f4f4f4"/><rect x="131.8" y="482.5" width="2" height="2" fill="#c8c8c8"/><rect x="140.8" y="478.4" width="10.5" height="10.2" fill="#dedede"/><path d="M142.8,480.4L149.3,486.6M149.3,480.4L142.8,486.6" stroke="#f6f6f6" stroke-width="1.6"/>
<text x="158.7" y="487.6" font-size="9.4" fill="#c43a3f" textLength="26.6" lengthAdjust="spacingAndGlyphs">1.5323</text>
<text x="194.2" y="487.6" font-size="9.4" fill="#33339a" textLength="30.0" lengthAdjust="spacingAndGlyphs">-1.8102</text>
<text x="232.5" y="487.6" font-size="9.4" fill="#d8474c" textLength="30.8" lengthAdjust="spacingAndGlyphs">-3.3425</text>
<circle cx="33" cy="340" r="12.3" fill="#fff" stroke="#f4f4f4" stroke-width="1"/>
<path d="M24.4,343.8 L24.4,341.2 Q24.6,338.6 27.4,338.1 Q28.6,333.9 33,333.9 Q36.9,334 38.1,337.2 Q41.3,337.6 41.3,340.6 L41.3,343.8 Z" fill="#3d8fd0"/>
<path d="M25,341.6 L30.3,337.3 L34.3,341.4 L39.6,336.6" fill="none" stroke="#a6e4f8" stroke-width="1.4"/>
<text x="53.7" y="342.4" font-size="10.4" fill="#5b93c4" textLength="103.7" lengthAdjust="spacing" stroke="#5b93c4" stroke-width="0.2">Chart by TradingView</text>
<line x1="0" x2="8" y1="296.6" y2="296.6" stroke="#e6e6e6"/>
<line x1="0" x2="8" y1="417.3" y2="417.3" stroke="#e6e6e6"/>
<path d="M6.8,616.8 L4.2,620.5 L6.8,624.2" fill="none" stroke="#9a9a9a" stroke-width="1.2"/>
</svg></body></html>
